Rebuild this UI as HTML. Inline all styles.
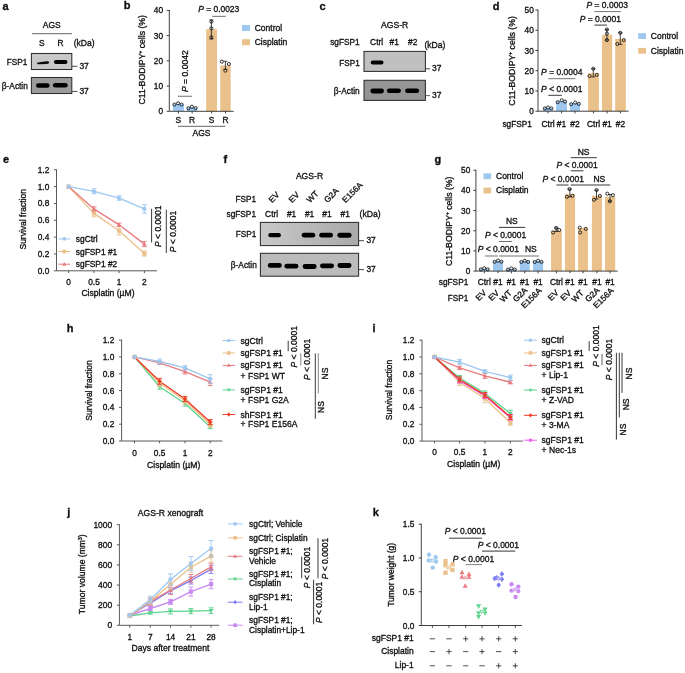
<!DOCTYPE html>
<html><head><meta charset="utf-8"><style>
html,body{margin:0;padding:0;background:#fff;}
svg{display:block;font-family:"Liberation Sans",sans-serif;}
svg text{fill:#111;stroke:#111;stroke-width:0.32px;}
</style></head><body>
<svg width="685" height="673" viewBox="0 0 685 673">
<defs><filter id="bl" x="-50%" y="-100%" width="200%" height="300%"><feGaussianBlur stdDeviation="0.6"/></filter>
<filter id="bl2" x="-20%" y="-20%" width="140%" height="140%"><feGaussianBlur stdDeviation="0.35"/></filter>
<linearGradient id="gf" x1="0" x2="1" y1="0" y2="0"><stop offset="0" stop-color="#c8c8c8"/><stop offset="1" stop-color="#a9a9a9"/></linearGradient>
<filter id="soft" x="0" y="0" width="685" height="673" filterUnits="userSpaceOnUse"><feGaussianBlur stdDeviation="0.35"/></filter></defs>
<rect width="685" height="673" fill="#fff"/>
<g filter="url(#soft)">
<text x="2.6" y="9.8" font-size="11" font-weight="bold" fill="#000">a</text>
<text x="51.7" y="27.7" font-size="8.5" text-anchor="middle">AGS</text>
<line x1="32" y1="33.7" x2="72" y2="33.7" stroke="#555" stroke-width="0.9" />
<text x="41.8" y="45.7" font-size="8.4" text-anchor="middle">S</text>
<text x="60.5" y="45.7" font-size="8.4" text-anchor="middle">R</text>
<text x="73.7" y="45.7" font-size="8.5">(kDa)</text>
<rect x="31.4" y="53.5" width="40.4" height="16" fill="#c8c8c8" stroke="#2e2e2e" stroke-width="1.05" />
<path d="M37.0 63.2 C37.0 62.4 38.5 62.1 41 61.9 L46.5 61.3 C48.6 61.2 49.2 61.9 49.2 62.6 C49.2 63.5 48.4 63.9 46.5 64.0 L40 64.3 C37.6 64.4 37.0 64.0 37.0 63.2 Z" fill="#111" filter="url(#bl)"/>
<rect x="53.9" y="59.9" width="13.6" height="4.2" rx="2.1" fill="#000" opacity="1" filter="url(#bl)"/>
<text x="27.2" y="64.9" font-size="8.2" text-anchor="end">FSP1</text>
<line x1="72" y1="66.3" x2="77.5" y2="66.3" stroke="#333" stroke-width="0.9" />
<text x="79.4" y="68.7" font-size="8.5">37</text>
<rect x="31.4" y="77.5" width="40.4" height="16" fill="#9c9c9c" stroke="#2e2e2e" stroke-width="1.05" />
<rect x="36" y="83.2" width="13.6" height="4.6" rx="2.3" fill="#000" opacity="1" filter="url(#bl)"/>
<rect x="52.9" y="83" width="14.8" height="4.6" rx="2.3" fill="#000" opacity="1" filter="url(#bl)"/>
<text x="27.8" y="88.7" font-size="8.3" text-anchor="end">β-Actin</text>
<line x1="72" y1="91.4" x2="77.5" y2="91.4" stroke="#333" stroke-width="0.9" />
<text x="79.4" y="93.6" font-size="8.5">37</text>
<text x="123.8" y="9.4" font-size="11" font-weight="bold" fill="#000">b</text>
<line x1="169.3" y1="10" x2="169.3" y2="111.3" stroke="#2e2e2e" stroke-width="0.9" />
<line x1="166.7" y1="111.3" x2="169.3" y2="111.3" stroke="#2e2e2e" stroke-width="0.9" />
<text x="163.1" y="114.35" font-size="8.3" text-anchor="end">0</text>
<line x1="166.7" y1="86.07" x2="169.3" y2="86.07" stroke="#2e2e2e" stroke-width="0.9" />
<text x="163.1" y="89.12" font-size="8.3" text-anchor="end">10</text>
<line x1="166.7" y1="60.85" x2="169.3" y2="60.85" stroke="#2e2e2e" stroke-width="0.9" />
<text x="163.1" y="63.9" font-size="8.3" text-anchor="end">20</text>
<line x1="166.7" y1="35.62" x2="169.3" y2="35.62" stroke="#2e2e2e" stroke-width="0.9" />
<text x="163.1" y="38.67" font-size="8.3" text-anchor="end">30</text>
<line x1="166.7" y1="10.4" x2="169.3" y2="10.4" stroke="#2e2e2e" stroke-width="0.9" />
<text x="163.1" y="13.45" font-size="8.3" text-anchor="end">40</text>
<text transform="translate(145.4 59.8) rotate(-90)" font-size="8.7" text-anchor="middle">C11-BODIPY<tspan font-size="4.79" dy="-3.31">+</tspan><tspan dy="3.31"> cells (%)</tspan></text>
<rect x="173" y="103.8" width="10.9" height="7.5" fill="#9ec8f0" />
<rect x="187" y="107.5" width="10.3" height="3.8" fill="#9ec8f0" />
<rect x="206.2" y="29.2" width="10.8" height="82.1" fill="#ebc18b" />
<rect x="220.3" y="65.4" width="10.4" height="45.9" fill="#ebc18b" />
<line x1="169.3" y1="111.3" x2="233.7" y2="111.3" stroke="#2e2e2e" stroke-width="0.9" />
<line x1="178.45" y1="111.3" x2="178.45" y2="113.5" stroke="#2e2e2e" stroke-width="0.9" />
<line x1="192.15" y1="111.3" x2="192.15" y2="113.5" stroke="#2e2e2e" stroke-width="0.9" />
<line x1="211.6" y1="111.3" x2="211.6" y2="113.5" stroke="#2e2e2e" stroke-width="0.9" />
<line x1="225.5" y1="111.3" x2="225.5" y2="113.5" stroke="#2e2e2e" stroke-width="0.9" />
<circle cx="174.4" cy="104.6" r="1.55" fill="none" stroke="#111" stroke-width="0.85"/>
<circle cx="178.1" cy="103.3" r="1.55" fill="none" stroke="#111" stroke-width="0.85"/>
<circle cx="181.6" cy="104.6" r="1.55" fill="none" stroke="#111" stroke-width="0.85"/>
<circle cx="188.4" cy="108.3" r="1.55" fill="none" stroke="#111" stroke-width="0.85"/>
<circle cx="191.9" cy="106.8" r="1.55" fill="none" stroke="#111" stroke-width="0.85"/>
<circle cx="195.6" cy="108.1" r="1.55" fill="none" stroke="#111" stroke-width="0.85"/>
<line x1="211.4" y1="19.9" x2="211.4" y2="39" stroke="#1a1a1a" stroke-width="0.8" />
<line x1="209.4" y1="19.9" x2="213.4" y2="19.9" stroke="#1a1a1a" stroke-width="0.8" />
<line x1="209.4" y1="39" x2="213.4" y2="39" stroke="#1a1a1a" stroke-width="0.8" />
<circle cx="211.4" cy="21.7" r="1.55" fill="none" stroke="#111" stroke-width="0.85"/>
<circle cx="211.4" cy="28.4" r="1.55" fill="none" stroke="#111" stroke-width="0.85"/>
<circle cx="211.4" cy="37.3" r="1.55" fill="none" stroke="#111" stroke-width="0.85"/>
<line x1="225.4" y1="61.3" x2="225.4" y2="69.3" stroke="#1a1a1a" stroke-width="0.8" />
<line x1="223.4" y1="61.3" x2="227.4" y2="61.3" stroke="#1a1a1a" stroke-width="0.8" />
<line x1="223.4" y1="69.3" x2="227.4" y2="69.3" stroke="#1a1a1a" stroke-width="0.8" />
<circle cx="221.8" cy="61.7" r="1.55" fill="none" stroke="#111" stroke-width="0.85"/>
<circle cx="228.9" cy="64" r="1.55" fill="none" stroke="#111" stroke-width="0.85"/>
<circle cx="225.4" cy="70.7" r="1.55" fill="none" stroke="#111" stroke-width="0.85"/>
<text x="178.4" y="122.7" font-size="8.4" text-anchor="middle">S</text>
<text x="192.1" y="122.7" font-size="8.4" text-anchor="middle">R</text>
<text x="211.6" y="122.7" font-size="8.4" text-anchor="middle">S</text>
<text x="225.5" y="122.7" font-size="8.4" text-anchor="middle">R</text>
<line x1="178" y1="126.3" x2="225.5" y2="126.3" stroke="#555" stroke-width="0.9" />
<text x="201.5" y="136.2" font-size="8.5" text-anchor="middle">AGS</text>
<text transform="translate(187.8 71.1) rotate(-90)" font-size="8.6" text-anchor="middle"><tspan font-style="italic">P</tspan> = 0.0042</text>
<line x1="178" y1="96.25" x2="191.9" y2="96.25" stroke="#666" stroke-width="0.95" />
<text x="198.2" y="11.5" font-size="8.45"><tspan font-style="italic">P</tspan> = 0.0023</text>
<line x1="212.2" y1="16.35" x2="225.6" y2="16.35" stroke="#666" stroke-width="0.95" />
<rect x="242" y="25" width="8" height="6" fill="#9ec8f0" />
<text x="254.7" y="31" font-size="8.5">Control</text>
<rect x="242" y="39.2" width="8" height="6" fill="#ebc18b" />
<text x="254.7" y="45.2" font-size="8.5">Cisplatin</text>
<text x="319.6" y="9.8" font-size="11" font-weight="bold" fill="#000">c</text>
<text x="394.6" y="28.1" font-size="8.6" text-anchor="middle">AGS-R</text>
<text x="359.7" y="45" font-size="8.3" text-anchor="end">sgFSP1</text>
<text x="376.6" y="45.1" font-size="8.4" text-anchor="middle">Ctrl</text>
<text x="394.2" y="45.1" font-size="8.4" text-anchor="middle">#1</text>
<text x="412.7" y="45.1" font-size="8.4" text-anchor="middle">#2</text>
<text x="424.4" y="47.8" font-size="8.6">(kDa)</text>
<rect x="364" y="51.4" width="61.4" height="20" fill="#c0c0c0" stroke="#2e2e2e" stroke-width="1.05" />
<rect x="370.7" y="60.6" width="12.8" height="4" rx="2" fill="#000" opacity="1" filter="url(#bl)"/>
<text x="359.7" y="66.1" font-size="8.2" text-anchor="end">FSP1</text>
<line x1="425.6" y1="68.8" x2="430" y2="68.8" stroke="#333" stroke-width="0.9" />
<text x="432.1" y="71.1" font-size="8.5">37</text>
<rect x="364" y="80.3" width="61.4" height="20.1" fill="#959595" stroke="#2e2e2e" stroke-width="1.05" />
<rect x="370.4" y="88.6" width="13.6" height="4.8" rx="2.4" fill="#000" opacity="1" filter="url(#bl)"/>
<rect x="386.9" y="88.6" width="14" height="4.4" rx="2.2" fill="#000" opacity="1" filter="url(#bl)"/>
<rect x="405.1" y="88.6" width="14" height="4.4" rx="2.2" fill="#000" opacity="1" filter="url(#bl)"/>
<text x="359.7" y="94.3" font-size="8.3" text-anchor="end">β-Actin</text>
<line x1="425.6" y1="95.6" x2="430" y2="95.6" stroke="#555" stroke-width="0.9" />
<text x="432.1" y="98.2" font-size="8.5">37</text>
<text x="492.8" y="9.7" font-size="11" font-weight="bold" fill="#000">d</text>
<line x1="538" y1="9.6" x2="538" y2="111.2" stroke="#2e2e2e" stroke-width="0.9" />
<line x1="535.4" y1="111.2" x2="538" y2="111.2" stroke="#2e2e2e" stroke-width="0.9" />
<text x="533.8" y="114.25" font-size="8.3" text-anchor="end">0</text>
<line x1="535.4" y1="90.96" x2="538" y2="90.96" stroke="#2e2e2e" stroke-width="0.9" />
<text x="533.8" y="94.01" font-size="8.3" text-anchor="end">10</text>
<line x1="535.4" y1="70.72" x2="538" y2="70.72" stroke="#2e2e2e" stroke-width="0.9" />
<text x="533.8" y="73.77" font-size="8.3" text-anchor="end">20</text>
<line x1="535.4" y1="50.48" x2="538" y2="50.48" stroke="#2e2e2e" stroke-width="0.9" />
<text x="533.8" y="53.53" font-size="8.3" text-anchor="end">30</text>
<line x1="535.4" y1="30.24" x2="538" y2="30.24" stroke="#2e2e2e" stroke-width="0.9" />
<text x="533.8" y="33.29" font-size="8.3" text-anchor="end">40</text>
<line x1="535.4" y1="10" x2="538" y2="10" stroke="#2e2e2e" stroke-width="0.9" />
<text x="533.8" y="13.05" font-size="8.3" text-anchor="end">50</text>
<text transform="translate(515.3 60.9) rotate(-90)" font-size="8.7" text-anchor="middle">C11-BODIPY<tspan font-size="4.79" dy="-3.31">+</tspan><tspan dy="3.31"> cells (%)</tspan></text>
<rect x="543.3" y="107.8" width="9.5" height="3.4" fill="#9ec8f0" />
<rect x="556.1" y="101.2" width="10.9" height="10" fill="#9ec8f0" />
<rect x="569.9" y="103.2" width="10.1" height="8" fill="#9ec8f0" />
<rect x="588.1" y="73.2" width="10.8" height="38" fill="#ebc18b" />
<rect x="602" y="34.8" width="10.2" height="76.4" fill="#ebc18b" />
<rect x="615.2" y="38.9" width="10.6" height="72.3" fill="#ebc18b" />
<line x1="538" y1="111.2" x2="628.6" y2="111.2" stroke="#2e2e2e" stroke-width="0.9" />
<line x1="548.05" y1="111.2" x2="548.05" y2="113.4" stroke="#2e2e2e" stroke-width="0.9" />
<line x1="561.55" y1="111.2" x2="561.55" y2="113.4" stroke="#2e2e2e" stroke-width="0.9" />
<line x1="574.95" y1="111.2" x2="574.95" y2="113.4" stroke="#2e2e2e" stroke-width="0.9" />
<line x1="593.5" y1="111.2" x2="593.5" y2="113.4" stroke="#2e2e2e" stroke-width="0.9" />
<line x1="607.1" y1="111.2" x2="607.1" y2="113.4" stroke="#2e2e2e" stroke-width="0.9" />
<line x1="620.5" y1="111.2" x2="620.5" y2="113.4" stroke="#2e2e2e" stroke-width="0.9" />
<circle cx="544.8" cy="108.5" r="1.55" fill="none" stroke="#111" stroke-width="0.85"/>
<circle cx="548.1" cy="107.6" r="1.55" fill="none" stroke="#111" stroke-width="0.85"/>
<circle cx="551.4" cy="108.4" r="1.55" fill="none" stroke="#111" stroke-width="0.85"/>
<circle cx="557.7" cy="102.2" r="1.55" fill="none" stroke="#111" stroke-width="0.85"/>
<circle cx="561.7" cy="100.3" r="1.55" fill="none" stroke="#111" stroke-width="0.85"/>
<circle cx="565" cy="101.6" r="1.55" fill="none" stroke="#111" stroke-width="0.85"/>
<circle cx="571.2" cy="104.2" r="1.55" fill="none" stroke="#111" stroke-width="0.85"/>
<circle cx="575.2" cy="102.6" r="1.55" fill="none" stroke="#111" stroke-width="0.85"/>
<circle cx="578.8" cy="103.9" r="1.55" fill="none" stroke="#111" stroke-width="0.85"/>
<line x1="593.3" y1="68.7" x2="593.3" y2="76.9" stroke="#1a1a1a" stroke-width="0.8" />
<line x1="591.3" y1="68.7" x2="595.3" y2="68.7" stroke="#1a1a1a" stroke-width="0.8" />
<line x1="591.3" y1="76.9" x2="595.3" y2="76.9" stroke="#1a1a1a" stroke-width="0.8" />
<circle cx="593.3" cy="68.7" r="1.55" fill="none" stroke="#111" stroke-width="0.85"/>
<circle cx="589.5" cy="76.1" r="1.55" fill="none" stroke="#111" stroke-width="0.85"/>
<circle cx="596.8" cy="74.8" r="1.55" fill="none" stroke="#111" stroke-width="0.85"/>
<line x1="606.9" y1="29.5" x2="606.9" y2="40.1" stroke="#1a1a1a" stroke-width="0.8" />
<line x1="604.9" y1="29.5" x2="608.9" y2="29.5" stroke="#1a1a1a" stroke-width="0.8" />
<line x1="604.9" y1="40.1" x2="608.9" y2="40.1" stroke="#1a1a1a" stroke-width="0.8" />
<circle cx="606.9" cy="29.5" r="1.55" fill="none" stroke="#111" stroke-width="0.85"/>
<circle cx="606.9" cy="33.6" r="1.55" fill="none" stroke="#111" stroke-width="0.85"/>
<circle cx="606.9" cy="40.1" r="1.55" fill="none" stroke="#111" stroke-width="0.85"/>
<line x1="620.3" y1="32.8" x2="620.3" y2="44.4" stroke="#1a1a1a" stroke-width="0.8" />
<line x1="618.3" y1="32.8" x2="622.3" y2="32.8" stroke="#1a1a1a" stroke-width="0.8" />
<line x1="618.3" y1="44.4" x2="622.3" y2="44.4" stroke="#1a1a1a" stroke-width="0.8" />
<circle cx="620.3" cy="32.8" r="1.55" fill="none" stroke="#111" stroke-width="0.85"/>
<circle cx="617.3" cy="44" r="1.55" fill="none" stroke="#111" stroke-width="0.85"/>
<circle cx="623.8" cy="40.1" r="1.55" fill="none" stroke="#111" stroke-width="0.85"/>
<text x="531.9" y="126.8" font-size="8.3" text-anchor="end">sgFSP1</text>
<text x="548.05" y="126.8" font-size="8.45" text-anchor="middle">Ctrl</text>
<text x="561.55" y="126.8" font-size="8.45" text-anchor="middle">#1</text>
<text x="574.95" y="126.8" font-size="8.45" text-anchor="middle">#2</text>
<text x="593.5" y="126.8" font-size="8.45" text-anchor="middle">Ctrl</text>
<text x="607.1" y="126.8" font-size="8.45" text-anchor="middle">#1</text>
<text x="620.5" y="126.8" font-size="8.45" text-anchor="middle">#2</text>
<text x="541.1" y="75.4" font-size="8.5"><tspan font-style="italic">P</tspan> = 0.0004</text>
<line x1="548.3" y1="78.7" x2="575.4" y2="78.7" stroke="#6e6e6e" stroke-width="0.95" />
<text x="541.1" y="91.8" font-size="8.5"><tspan font-style="italic">P</tspan> &lt; 0.0001</text>
<line x1="548.3" y1="95.3" x2="561.8" y2="95.3" stroke="#222" stroke-width="0.9" />
<text x="586.5" y="7.7" font-size="8.5"><tspan font-style="italic">P</tspan> = 0.0003</text>
<line x1="594.4" y1="11.6" x2="620.9" y2="11.6" stroke="#6e6e6e" stroke-width="0.95" />
<text x="579.7" y="22.2" font-size="8.5"><tspan font-style="italic">P</tspan> = 0.0001</text>
<line x1="594.4" y1="25.1" x2="607" y2="25.1" stroke="#222" stroke-width="0.9" />
<rect x="638.2" y="33.2" width="7.8" height="5.8" fill="#9ec8f0" />
<text x="650.8" y="39.4" font-size="8.5">Control</text>
<rect x="638.2" y="47.9" width="7.8" height="5.8" fill="#ebc18b" />
<text x="650.8" y="54" font-size="8.5">Cisplatin</text>
<text x="3" y="162.7" font-size="11" font-weight="bold" fill="#000">e</text>
<line x1="56.5" y1="169.36" x2="56.5" y2="270.8" stroke="#474747" stroke-width="0.9" />
<line x1="53.9" y1="270.8" x2="56.5" y2="270.8" stroke="#474747" stroke-width="0.9" />
<text x="49.3" y="273.8" font-size="8.3" text-anchor="end">0.0</text>
<line x1="53.9" y1="253.96" x2="56.5" y2="253.96" stroke="#474747" stroke-width="0.9" />
<text x="49.3" y="256.96" font-size="8.3" text-anchor="end">0.2</text>
<line x1="53.9" y1="237.12" x2="56.5" y2="237.12" stroke="#474747" stroke-width="0.9" />
<text x="49.3" y="240.12" font-size="8.3" text-anchor="end">0.4</text>
<line x1="53.9" y1="220.28" x2="56.5" y2="220.28" stroke="#474747" stroke-width="0.9" />
<text x="49.3" y="223.28" font-size="8.3" text-anchor="end">0.6</text>
<line x1="53.9" y1="203.44" x2="56.5" y2="203.44" stroke="#474747" stroke-width="0.9" />
<text x="49.3" y="206.44" font-size="8.3" text-anchor="end">0.8</text>
<line x1="53.9" y1="186.6" x2="56.5" y2="186.6" stroke="#474747" stroke-width="0.9" />
<text x="49.3" y="189.6" font-size="8.3" text-anchor="end">1.0</text>
<line x1="53.9" y1="169.76" x2="56.5" y2="169.76" stroke="#474747" stroke-width="0.9" />
<text x="49.3" y="172.76" font-size="8.3" text-anchor="end">1.2</text>
<line x1="56.5" y1="270.8" x2="157" y2="270.8" stroke="#474747" stroke-width="0.9" />
<line x1="68.6" y1="270.8" x2="68.6" y2="273.1" stroke="#474747" stroke-width="0.9" />
<line x1="94" y1="270.8" x2="94" y2="273.1" stroke="#474747" stroke-width="0.9" />
<line x1="119.1" y1="270.8" x2="119.1" y2="273.1" stroke="#474747" stroke-width="0.9" />
<line x1="144.4" y1="270.8" x2="144.4" y2="273.1" stroke="#474747" stroke-width="0.9" />
<text x="68.6" y="284.5" font-size="8.3" text-anchor="middle">0</text>
<text x="94" y="284.5" font-size="8.3" text-anchor="middle">0.5</text>
<text x="119.1" y="284.5" font-size="8.3" text-anchor="middle">1</text>
<text x="144.4" y="284.5" font-size="8.3" text-anchor="middle">2</text>
<text x="108" y="296.2" font-size="8.6" text-anchor="middle">Cisplatin (µM)</text>
<text transform="translate(26.3 219.3) rotate(-90)" font-size="8.5" text-anchor="middle">Survival fraction</text>
<polyline points="68.6,186.6 94,213.38 119.1,230.72 144.4,253.54" fill="none" stroke="#ebc18b" stroke-width="1.35" stroke-linejoin="round"/>
<polyline points="68.6,186.6 94,208.91 119.1,224.83 144.4,244.11" fill="none" stroke="#e87c80" stroke-width="1.35" stroke-linejoin="round"/>
<polyline points="68.6,186.6 94,191.32 119.1,198.05 144.4,208.91" fill="none" stroke="#9ec8f0" stroke-width="1.35" stroke-linejoin="round"/>
<rect x="66.5" y="184.5" width="4.2" height="4.2" fill="#ebc18b" />
<line x1="94" y1="210.01" x2="94" y2="216.74" stroke="#ebc18b" stroke-width="0.9" />
<line x1="91.5" y1="210.01" x2="96.5" y2="210.01" stroke="#ebc18b" stroke-width="0.9" />
<line x1="91.5" y1="216.74" x2="96.5" y2="216.74" stroke="#ebc18b" stroke-width="0.9" />
<rect x="91.9" y="211.28" width="4.2" height="4.2" fill="#ebc18b" />
<line x1="119.1" y1="226.51" x2="119.1" y2="234.93" stroke="#ebc18b" stroke-width="0.9" />
<line x1="116.6" y1="226.51" x2="121.6" y2="226.51" stroke="#ebc18b" stroke-width="0.9" />
<line x1="116.6" y1="234.93" x2="121.6" y2="234.93" stroke="#ebc18b" stroke-width="0.9" />
<rect x="117" y="228.62" width="4.2" height="4.2" fill="#ebc18b" />
<line x1="144.4" y1="251.01" x2="144.4" y2="256.06" stroke="#ebc18b" stroke-width="0.9" />
<line x1="141.9" y1="251.01" x2="146.9" y2="251.01" stroke="#ebc18b" stroke-width="0.9" />
<line x1="141.9" y1="256.06" x2="146.9" y2="256.06" stroke="#ebc18b" stroke-width="0.9" />
<rect x="142.3" y="251.44" width="4.2" height="4.2" fill="#ebc18b" />
<polygon points="68.6,184.08 70.91,188.28 66.29,188.28" fill="#e87c80"/>
<line x1="94" y1="206.81" x2="94" y2="211.02" stroke="#e87c80" stroke-width="0.9" />
<line x1="91.5" y1="206.81" x2="96.5" y2="206.81" stroke="#e87c80" stroke-width="0.9" />
<line x1="91.5" y1="211.02" x2="96.5" y2="211.02" stroke="#e87c80" stroke-width="0.9" />
<polygon points="94,206.39 96.31,210.59 91.69,210.59" fill="#e87c80"/>
<line x1="119.1" y1="223.14" x2="119.1" y2="226.51" stroke="#e87c80" stroke-width="0.9" />
<line x1="116.6" y1="223.14" x2="121.6" y2="223.14" stroke="#e87c80" stroke-width="0.9" />
<line x1="116.6" y1="226.51" x2="121.6" y2="226.51" stroke="#e87c80" stroke-width="0.9" />
<polygon points="119.1,222.31 121.41,226.51 116.79,226.51" fill="#e87c80"/>
<line x1="144.4" y1="241.58" x2="144.4" y2="246.63" stroke="#e87c80" stroke-width="0.9" />
<line x1="141.9" y1="241.58" x2="146.9" y2="241.58" stroke="#e87c80" stroke-width="0.9" />
<line x1="141.9" y1="246.63" x2="146.9" y2="246.63" stroke="#e87c80" stroke-width="0.9" />
<polygon points="144.4,241.59 146.71,245.79 142.09,245.79" fill="#e87c80"/>
<circle cx="68.6" cy="186.6" r="2.1" fill="#9ec8f0"/>
<line x1="94" y1="188.79" x2="94" y2="193.84" stroke="#9ec8f0" stroke-width="0.9" />
<line x1="91.5" y1="188.79" x2="96.5" y2="188.79" stroke="#9ec8f0" stroke-width="0.9" />
<line x1="91.5" y1="193.84" x2="96.5" y2="193.84" stroke="#9ec8f0" stroke-width="0.9" />
<circle cx="94" cy="191.32" r="2.1" fill="#9ec8f0"/>
<line x1="119.1" y1="195.78" x2="119.1" y2="200.32" stroke="#9ec8f0" stroke-width="0.9" />
<line x1="116.6" y1="195.78" x2="121.6" y2="195.78" stroke="#9ec8f0" stroke-width="0.9" />
<line x1="116.6" y1="200.32" x2="121.6" y2="200.32" stroke="#9ec8f0" stroke-width="0.9" />
<circle cx="119.1" cy="198.05" r="2.1" fill="#9ec8f0"/>
<line x1="144.4" y1="204.7" x2="144.4" y2="213.12" stroke="#9ec8f0" stroke-width="0.9" />
<line x1="141.9" y1="204.7" x2="146.9" y2="204.7" stroke="#9ec8f0" stroke-width="0.9" />
<line x1="141.9" y1="213.12" x2="146.9" y2="213.12" stroke="#9ec8f0" stroke-width="0.9" />
<circle cx="144.4" cy="208.91" r="2.1" fill="#9ec8f0"/>
<line x1="58.3" y1="238.9" x2="70.3" y2="238.9" stroke="#9ec8f0" stroke-width="1" />
<circle cx="64.3" cy="238.9" r="1.8" fill="#9ec8f0"/>
<text x="75.8" y="241.9" font-size="8.4">sgCtrl</text>
<line x1="58.3" y1="251.5" x2="70.3" y2="251.5" stroke="#ebc18b" stroke-width="1" />
<rect x="62.5" y="249.7" width="3.6" height="3.6" fill="#ebc18b" />
<text x="75.8" y="254.5" font-size="8.4">sgFSP1 #1</text>
<line x1="58.3" y1="264.2" x2="70.3" y2="264.2" stroke="#e87c80" stroke-width="1" />
<polygon points="64.3,262.04 66.28,265.64 62.32,265.64" fill="#e87c80"/>
<text x="75.8" y="267.2" font-size="8.4">sgFSP1 #2</text>
<line x1="151.6" y1="208.8" x2="151.6" y2="242.5" stroke="#222" stroke-width="0.9" />
<text transform="translate(160.9 226.3) rotate(-90)" font-size="8.5" text-anchor="middle"><tspan font-style="italic">P</tspan> &lt; 0.0001</text>
<line x1="166.3" y1="209.6" x2="166.3" y2="253" stroke="#222" stroke-width="0.9" />
<text transform="translate(175.8 231.5) rotate(-90)" font-size="8.5" text-anchor="middle"><tspan font-style="italic">P</tspan> &lt; 0.0001</text>
<text x="223.6" y="163.2" font-size="11" font-weight="bold" fill="#000">f</text>
<text x="309.5" y="178.9" font-size="8.6" text-anchor="middle">AGS-R</text>
<text x="256" y="202.2" font-size="8.2" text-anchor="end">FSP1</text>
<text transform="translate(272 203.2) rotate(-45)" font-size="8.3">EV</text>
<text transform="translate(292 203.2) rotate(-45)" font-size="8.3">EV</text>
<text transform="translate(310 203.2) rotate(-45)" font-size="8.3">WT</text>
<text transform="translate(327.4 203.2) rotate(-45)" font-size="8.3">G2A</text>
<text transform="translate(345.6 203.2) rotate(-45)" font-size="8.3">E156A</text>
<text x="256" y="216.9" font-size="8.3" text-anchor="end">sgFSP1</text>
<text x="271.6" y="216.9" font-size="8.4" text-anchor="middle">Ctrl</text>
<text x="291.6" y="216.9" font-size="8.4" text-anchor="middle">#1</text>
<text x="309.6" y="216.9" font-size="8.4" text-anchor="middle">#1</text>
<text x="327" y="216.9" font-size="8.4" text-anchor="middle">#1</text>
<text x="345.2" y="216.9" font-size="8.4" text-anchor="middle">#1</text>
<text x="359.6" y="217.4" font-size="8.6">(kDa)</text>
<rect x="260.4" y="222.4" width="98.2" height="23.2" fill="url(#gf)" stroke="#2e2e2e" stroke-width="1.05" />
<rect x="268.3" y="233.1" width="12.6" height="4.2" rx="2.1" fill="#000" opacity="1" filter="url(#bl)"/>
<rect x="301.7" y="232.8" width="13.6" height="4.8" rx="2.4" fill="#000" opacity="1" filter="url(#bl)"/>
<rect x="319.2" y="232.8" width="13.8" height="4.8" rx="2.4" fill="#000" opacity="1" filter="url(#bl)"/>
<rect x="337.4" y="232.75" width="14.2" height="4.9" rx="2.45" fill="#000" opacity="1" filter="url(#bl)"/>
<text x="256.3" y="236.6" font-size="8.2" text-anchor="end">FSP1</text>
<line x1="358.7" y1="240.7" x2="364" y2="240.7" stroke="#333" stroke-width="0.9" />
<text x="366.4" y="243.3" font-size="8.4">37</text>
<rect x="260.4" y="253.3" width="98.2" height="22.9" fill="#bbbbbb" stroke="#2e2e2e" stroke-width="1.05" />
<rect x="267.8" y="263" width="14" height="4.8" rx="2.4" fill="#000" opacity="1" filter="url(#bl)"/>
<rect x="284.4" y="263.8" width="14" height="4.8" rx="2.4" fill="#000" opacity="1" filter="url(#bl)"/>
<rect x="302.6" y="264.1" width="14" height="4.8" rx="2.4" fill="#000" opacity="1" filter="url(#bl)"/>
<rect x="320" y="263.4" width="14" height="4.8" rx="2.4" fill="#000" opacity="1" filter="url(#bl)"/>
<rect x="337.5" y="263.1" width="14" height="4.8" rx="2.4" fill="#000" opacity="1" filter="url(#bl)"/>
<text x="256.8" y="268.3" font-size="8.3" text-anchor="end">β-Actin</text>
<line x1="358.7" y1="269.6" x2="364" y2="269.6" stroke="#333" stroke-width="0.9" />
<text x="366.4" y="272.2" font-size="8.4">37</text>
<text x="434.6" y="162.7" font-size="11" font-weight="bold" fill="#000">g</text>
<line x1="475.9" y1="169.8" x2="475.9" y2="271.1" stroke="#2e2e2e" stroke-width="0.9" />
<line x1="473.3" y1="271.1" x2="475.9" y2="271.1" stroke="#2e2e2e" stroke-width="0.9" />
<text x="470.3" y="274.15" font-size="8.3" text-anchor="end">0</text>
<line x1="473.3" y1="250.92" x2="475.9" y2="250.92" stroke="#2e2e2e" stroke-width="0.9" />
<text x="470.3" y="253.97" font-size="8.3" text-anchor="end">10</text>
<line x1="473.3" y1="230.74" x2="475.9" y2="230.74" stroke="#2e2e2e" stroke-width="0.9" />
<text x="470.3" y="233.79" font-size="8.3" text-anchor="end">20</text>
<line x1="473.3" y1="210.56" x2="475.9" y2="210.56" stroke="#2e2e2e" stroke-width="0.9" />
<text x="470.3" y="213.61" font-size="8.3" text-anchor="end">30</text>
<line x1="473.3" y1="190.38" x2="475.9" y2="190.38" stroke="#2e2e2e" stroke-width="0.9" />
<text x="470.3" y="193.43" font-size="8.3" text-anchor="end">40</text>
<line x1="473.3" y1="170.2" x2="475.9" y2="170.2" stroke="#2e2e2e" stroke-width="0.9" />
<text x="470.3" y="173.25" font-size="8.3" text-anchor="end">50</text>
<text transform="translate(452.0 221.3) rotate(-90)" font-size="8.7" text-anchor="middle">C11-BODIPY<tspan font-size="4.8" dy="-3.3">+</tspan><tspan dy="3.3"> cells (%)</tspan></text>
<rect x="479.2" y="268.6" width="10.1" height="2.5" fill="#9ec8f0" />
<rect x="493" y="261" width="10" height="10.1" fill="#9ec8f0" />
<rect x="506.4" y="268.8" width="9.9" height="2.3" fill="#9ec8f0" />
<rect x="519.8" y="261.2" width="9.9" height="9.9" fill="#9ec8f0" />
<rect x="533.1" y="261.2" width="10" height="9.9" fill="#9ec8f0" />
<rect x="551.1" y="230.5" width="10.7" height="40.6" fill="#ebc18b" />
<rect x="564.9" y="194.2" width="10.2" height="76.9" fill="#ebc18b" />
<rect x="578.1" y="227.9" width="9.8" height="43.2" fill="#ebc18b" />
<rect x="591.9" y="195.7" width="10.1" height="75.4" fill="#ebc18b" />
<rect x="605" y="196.8" width="10.2" height="74.3" fill="#ebc18b" />
<line x1="475.9" y1="271.1" x2="617.8" y2="271.1" stroke="#2e2e2e" stroke-width="0.9" />
<line x1="484.25" y1="271.1" x2="484.25" y2="273.3" stroke="#2e2e2e" stroke-width="0.9" />
<circle cx="480.85" cy="269.4" r="1.55" fill="none" stroke="#111" stroke-width="0.85"/>
<circle cx="484.25" cy="268.2" r="1.55" fill="none" stroke="#111" stroke-width="0.85"/>
<circle cx="487.65" cy="269.3" r="1.55" fill="none" stroke="#111" stroke-width="0.85"/>
<line x1="498" y1="271.1" x2="498" y2="273.3" stroke="#2e2e2e" stroke-width="0.9" />
<circle cx="494.6" cy="261.8" r="1.55" fill="none" stroke="#111" stroke-width="0.85"/>
<circle cx="498" cy="260.6" r="1.55" fill="none" stroke="#111" stroke-width="0.85"/>
<circle cx="501.4" cy="261.7" r="1.55" fill="none" stroke="#111" stroke-width="0.85"/>
<line x1="511.35" y1="271.1" x2="511.35" y2="273.3" stroke="#2e2e2e" stroke-width="0.9" />
<circle cx="507.95" cy="269.6" r="1.55" fill="none" stroke="#111" stroke-width="0.85"/>
<circle cx="511.35" cy="268.4" r="1.55" fill="none" stroke="#111" stroke-width="0.85"/>
<circle cx="514.75" cy="269.5" r="1.55" fill="none" stroke="#111" stroke-width="0.85"/>
<line x1="524.75" y1="271.1" x2="524.75" y2="273.3" stroke="#2e2e2e" stroke-width="0.9" />
<circle cx="521.35" cy="262" r="1.55" fill="none" stroke="#111" stroke-width="0.85"/>
<circle cx="524.75" cy="260.8" r="1.55" fill="none" stroke="#111" stroke-width="0.85"/>
<circle cx="528.15" cy="261.9" r="1.55" fill="none" stroke="#111" stroke-width="0.85"/>
<line x1="538.1" y1="271.1" x2="538.1" y2="273.3" stroke="#2e2e2e" stroke-width="0.9" />
<circle cx="534.7" cy="262" r="1.55" fill="none" stroke="#111" stroke-width="0.85"/>
<circle cx="538.1" cy="260.8" r="1.55" fill="none" stroke="#111" stroke-width="0.85"/>
<circle cx="541.5" cy="261.9" r="1.55" fill="none" stroke="#111" stroke-width="0.85"/>
<line x1="556.45" y1="271.1" x2="556.45" y2="273.3" stroke="#2e2e2e" stroke-width="0.9" />
<line x1="570" y1="271.1" x2="570" y2="273.3" stroke="#2e2e2e" stroke-width="0.9" />
<line x1="583" y1="271.1" x2="583" y2="273.3" stroke="#2e2e2e" stroke-width="0.9" />
<line x1="596.95" y1="271.1" x2="596.95" y2="273.3" stroke="#2e2e2e" stroke-width="0.9" />
<line x1="610.1" y1="271.1" x2="610.1" y2="273.3" stroke="#2e2e2e" stroke-width="0.9" />
<line x1="556.2" y1="227.9" x2="556.2" y2="231.5" stroke="#1a1a1a" stroke-width="0.8" />
<line x1="554.2" y1="227.9" x2="558.2" y2="227.9" stroke="#1a1a1a" stroke-width="0.8" />
<line x1="554.2" y1="231.5" x2="558.2" y2="231.5" stroke="#1a1a1a" stroke-width="0.8" />
<circle cx="556.2" cy="227.9" r="1.55" fill="none" stroke="#111" stroke-width="0.85"/>
<circle cx="553.1" cy="232.5" r="1.55" fill="none" stroke="#111" stroke-width="0.85"/>
<circle cx="559.2" cy="230" r="1.55" fill="none" stroke="#111" stroke-width="0.85"/>
<line x1="569.9" y1="189.1" x2="569.9" y2="196.8" stroke="#1a1a1a" stroke-width="0.8" />
<line x1="567.9" y1="189.1" x2="571.9" y2="189.1" stroke="#1a1a1a" stroke-width="0.8" />
<line x1="567.9" y1="196.8" x2="571.9" y2="196.8" stroke="#1a1a1a" stroke-width="0.8" />
<circle cx="569.5" cy="189.1" r="1.55" fill="none" stroke="#111" stroke-width="0.85"/>
<circle cx="566.9" cy="196.8" r="1.55" fill="none" stroke="#111" stroke-width="0.85"/>
<circle cx="572.5" cy="195.7" r="1.55" fill="none" stroke="#111" stroke-width="0.85"/>
<circle cx="579.7" cy="227.7" r="1.55" fill="none" stroke="#111" stroke-width="0.85"/>
<circle cx="585.8" cy="228.9" r="1.55" fill="none" stroke="#111" stroke-width="0.85"/>
<circle cx="580.2" cy="232.5" r="1.55" fill="none" stroke="#111" stroke-width="0.85"/>
<line x1="596.5" y1="190.1" x2="596.5" y2="199" stroke="#1a1a1a" stroke-width="0.8" />
<line x1="594.5" y1="190.1" x2="598.5" y2="190.1" stroke="#1a1a1a" stroke-width="0.8" />
<line x1="594.5" y1="199" x2="598.5" y2="199" stroke="#1a1a1a" stroke-width="0.8" />
<circle cx="596.5" cy="190.1" r="1.55" fill="none" stroke="#111" stroke-width="0.85"/>
<circle cx="599.9" cy="196" r="1.55" fill="none" stroke="#111" stroke-width="0.85"/>
<circle cx="594" cy="199.8" r="1.55" fill="none" stroke="#111" stroke-width="0.85"/>
<line x1="610" y1="194.5" x2="610" y2="201.3" stroke="#1a1a1a" stroke-width="0.8" />
<line x1="608" y1="194.5" x2="612" y2="194.5" stroke="#1a1a1a" stroke-width="0.8" />
<line x1="608" y1="201.3" x2="612" y2="201.3" stroke="#1a1a1a" stroke-width="0.8" />
<circle cx="607.3" cy="193.7" r="1.55" fill="none" stroke="#111" stroke-width="0.85"/>
<circle cx="612.9" cy="195.2" r="1.55" fill="none" stroke="#111" stroke-width="0.85"/>
<circle cx="609.8" cy="201.3" r="1.55" fill="none" stroke="#111" stroke-width="0.85"/>
<rect x="483.5" y="173.3" width="7.6" height="5.9" fill="#9ec8f0" />
<text x="496" y="179" font-size="8.5">Control</text>
<rect x="483.5" y="187.6" width="7.6" height="5.9" fill="#ebc18b" />
<text x="496" y="193.3" font-size="8.5">Cisplatin</text>
<text x="468.3" y="284.8" font-size="8.3" text-anchor="end">sgFSP1</text>
<text x="468.3" y="301.2" font-size="8.2" text-anchor="end">FSP1</text>
<text x="484.25" y="284.8" font-size="8.4" text-anchor="middle">Ctrl</text>
<text transform="translate(486.95 293.4) rotate(-45)" font-size="8.3" text-anchor="end">EV</text>
<text x="498" y="284.8" font-size="8.4" text-anchor="middle">#1</text>
<text transform="translate(499.6 293.5) rotate(-45)" font-size="8.3" text-anchor="end">EV</text>
<text x="511.35" y="284.8" font-size="8.4" text-anchor="middle">#1</text>
<text transform="translate(512.45 293.5) rotate(-45)" font-size="8.3" text-anchor="end">WT</text>
<text x="524.75" y="284.8" font-size="8.4" text-anchor="middle">#1</text>
<text transform="translate(527.95 290.8) rotate(-45)" font-size="8.3" text-anchor="end">G2A</text>
<text x="538.1" y="284.8" font-size="8.4" text-anchor="middle">#1</text>
<text transform="translate(542.2 291.2) rotate(-45)" font-size="8.3" text-anchor="end">E156A</text>
<text x="556.45" y="284.8" font-size="8.4" text-anchor="middle">Ctrl</text>
<text transform="translate(559.15 293.4) rotate(-45)" font-size="8.3" text-anchor="end">EV</text>
<text x="570" y="284.8" font-size="8.4" text-anchor="middle">#1</text>
<text transform="translate(571.6 293.5) rotate(-45)" font-size="8.3" text-anchor="end">EV</text>
<text x="583" y="284.8" font-size="8.4" text-anchor="middle">#1</text>
<text transform="translate(584.1 293.5) rotate(-45)" font-size="8.3" text-anchor="end">WT</text>
<text x="596.95" y="284.8" font-size="8.4" text-anchor="middle">#1</text>
<text transform="translate(600.15 290.8) rotate(-45)" font-size="8.3" text-anchor="end">G2A</text>
<text x="610.1" y="284.8" font-size="8.4" text-anchor="middle">#1</text>
<text transform="translate(614.2 291.2) rotate(-45)" font-size="8.3" text-anchor="end">E156A</text>
<text x="511.9" y="224.3" font-size="8.5" text-anchor="middle">NS</text>
<line x1="499" y1="227.4" x2="525.2" y2="227.4" stroke="#222" stroke-width="0.9" />
<text x="484.9" y="238.4" font-size="8.5"><tspan font-style="italic">P</tspan> &lt; 0.0001</text>
<line x1="499" y1="241.5" x2="511.9" y2="241.5" stroke="#666" stroke-width="0.95" />
<text x="477.7" y="251.8" font-size="8.5"><tspan font-style="italic">P</tspan> &lt; 0.0001</text>
<text x="530.8" y="251.8" font-size="8.5" text-anchor="middle">NS</text>
<line x1="484.9" y1="256" x2="497.9" y2="256" stroke="#6e6e6e" stroke-width="0.95" />
<line x1="499" y1="256" x2="539" y2="256" stroke="#6e6e6e" stroke-width="0.95" />
<text x="583.6" y="154.6" font-size="8.5" text-anchor="middle">NS</text>
<line x1="570.8" y1="157.7" x2="596.8" y2="157.7" stroke="#222" stroke-width="0.9" />
<text x="556.4" y="168.3" font-size="8.5"><tspan font-style="italic">P</tspan> &lt; 0.0001</text>
<line x1="570.8" y1="170.8" x2="583.4" y2="170.8" stroke="#222" stroke-width="0.9" />
<text x="542.5" y="181.7" font-size="8.5"><tspan font-style="italic">P</tspan> &lt; 0.0001</text>
<text x="599.4" y="181.7" font-size="8.5" text-anchor="middle">NS</text>
<line x1="556.4" y1="185" x2="568.5" y2="185" stroke="#222" stroke-width="0.9" />
<line x1="570.8" y1="185" x2="610.2" y2="185" stroke="#222" stroke-width="0.9" />
<text x="66.8" y="332.1" font-size="11" font-weight="bold" fill="#000">h</text>
<line x1="121.6" y1="339.68" x2="121.6" y2="441" stroke="#474747" stroke-width="0.9" />
<line x1="119" y1="441" x2="121.6" y2="441" stroke="#474747" stroke-width="0.9" />
<text x="114.3" y="444" font-size="8.3" text-anchor="end">0.0</text>
<line x1="119" y1="424.18" x2="121.6" y2="424.18" stroke="#474747" stroke-width="0.9" />
<text x="114.3" y="427.18" font-size="8.3" text-anchor="end">0.2</text>
<line x1="119" y1="407.36" x2="121.6" y2="407.36" stroke="#474747" stroke-width="0.9" />
<text x="114.3" y="410.36" font-size="8.3" text-anchor="end">0.4</text>
<line x1="119" y1="390.54" x2="121.6" y2="390.54" stroke="#474747" stroke-width="0.9" />
<text x="114.3" y="393.54" font-size="8.3" text-anchor="end">0.6</text>
<line x1="119" y1="373.72" x2="121.6" y2="373.72" stroke="#474747" stroke-width="0.9" />
<text x="114.3" y="376.72" font-size="8.3" text-anchor="end">0.8</text>
<line x1="119" y1="356.9" x2="121.6" y2="356.9" stroke="#474747" stroke-width="0.9" />
<text x="114.3" y="359.9" font-size="8.3" text-anchor="end">1.0</text>
<line x1="119" y1="340.08" x2="121.6" y2="340.08" stroke="#474747" stroke-width="0.9" />
<text x="114.3" y="343.08" font-size="8.3" text-anchor="end">1.2</text>
<line x1="121.6" y1="441" x2="222.4" y2="441" stroke="#474747" stroke-width="0.9" />
<line x1="134.5" y1="441" x2="134.5" y2="443.3" stroke="#474747" stroke-width="0.9" />
<line x1="159.6" y1="441" x2="159.6" y2="443.3" stroke="#474747" stroke-width="0.9" />
<line x1="185" y1="441" x2="185" y2="443.3" stroke="#474747" stroke-width="0.9" />
<line x1="210.2" y1="441" x2="210.2" y2="443.3" stroke="#474747" stroke-width="0.9" />
<text x="134.5" y="455.6" font-size="8.3" text-anchor="middle">0</text>
<text x="159.6" y="455.6" font-size="8.3" text-anchor="middle">0.5</text>
<text x="185" y="455.6" font-size="8.3" text-anchor="middle">1</text>
<text x="210.2" y="455.6" font-size="8.3" text-anchor="middle">2</text>
<text x="173.7" y="467.6" font-size="8.6" text-anchor="middle">Cisplatin (µM)</text>
<text transform="translate(91.9 390.5) rotate(-90)" font-size="8.5" text-anchor="middle">Survival fraction</text>
<polyline points="134.5,356.9 159.6,386.76 185,403.49 210.2,426.87" fill="none" stroke="#5cd38e" stroke-width="1.35" stroke-linejoin="round"/>
<polyline points="134.5,356.9 159.6,383.31 185,400.72 210.2,424.6" fill="none" stroke="#ebc18b" stroke-width="1.35" stroke-linejoin="round"/>
<polyline points="134.5,356.9 159.6,381.29 185,398.95 210.2,422.08" fill="none" stroke="#ee3a24" stroke-width="1.35" stroke-linejoin="round"/>
<polyline points="134.5,356.9 159.6,362.79 185,371.53 210.2,382.21" fill="none" stroke="#e87c80" stroke-width="1.35" stroke-linejoin="round"/>
<polyline points="134.5,356.9 159.6,361.53 185,367.83 210.2,378.93" fill="none" stroke="#9ec8f0" stroke-width="1.35" stroke-linejoin="round"/>
<polygon points="134.5,359.42 136.81,355.22 132.19,355.22" fill="#5cd38e"/>
<line x1="159.6" y1="384.23" x2="159.6" y2="389.28" stroke="#5cd38e" stroke-width="0.9" />
<line x1="157.1" y1="384.23" x2="162.1" y2="384.23" stroke="#5cd38e" stroke-width="0.9" />
<line x1="157.1" y1="389.28" x2="162.1" y2="389.28" stroke="#5cd38e" stroke-width="0.9" />
<polygon points="159.6,389.28 161.91,385.08 157.29,385.08" fill="#5cd38e"/>
<line x1="185" y1="400.97" x2="185" y2="406.01" stroke="#5cd38e" stroke-width="0.9" />
<line x1="182.5" y1="400.97" x2="187.5" y2="400.97" stroke="#5cd38e" stroke-width="0.9" />
<line x1="182.5" y1="406.01" x2="187.5" y2="406.01" stroke="#5cd38e" stroke-width="0.9" />
<polygon points="185,406.01 187.31,401.81 182.69,401.81" fill="#5cd38e"/>
<line x1="210.2" y1="425.19" x2="210.2" y2="428.55" stroke="#5cd38e" stroke-width="0.9" />
<line x1="207.7" y1="425.19" x2="212.7" y2="425.19" stroke="#5cd38e" stroke-width="0.9" />
<line x1="207.7" y1="428.55" x2="212.7" y2="428.55" stroke="#5cd38e" stroke-width="0.9" />
<polygon points="210.2,429.39 212.51,425.19 207.89,425.19" fill="#5cd38e"/>
<rect x="132.4" y="354.8" width="4.2" height="4.2" fill="#ebc18b" />
<line x1="159.6" y1="379.94" x2="159.6" y2="386.67" stroke="#ebc18b" stroke-width="0.9" />
<line x1="157.1" y1="379.94" x2="162.1" y2="379.94" stroke="#ebc18b" stroke-width="0.9" />
<line x1="157.1" y1="386.67" x2="162.1" y2="386.67" stroke="#ebc18b" stroke-width="0.9" />
<rect x="157.5" y="381.21" width="4.2" height="4.2" fill="#ebc18b" />
<line x1="185" y1="397.35" x2="185" y2="404.08" stroke="#ebc18b" stroke-width="0.9" />
<line x1="182.5" y1="397.35" x2="187.5" y2="397.35" stroke="#ebc18b" stroke-width="0.9" />
<line x1="182.5" y1="404.08" x2="187.5" y2="404.08" stroke="#ebc18b" stroke-width="0.9" />
<rect x="182.9" y="398.62" width="4.2" height="4.2" fill="#ebc18b" />
<line x1="210.2" y1="422.08" x2="210.2" y2="427.12" stroke="#ebc18b" stroke-width="0.9" />
<line x1="207.7" y1="422.08" x2="212.7" y2="422.08" stroke="#ebc18b" stroke-width="0.9" />
<line x1="207.7" y1="427.12" x2="212.7" y2="427.12" stroke="#ebc18b" stroke-width="0.9" />
<rect x="208.1" y="422.5" width="4.2" height="4.2" fill="#ebc18b" />
<polygon points="134.5,354.38 136.6,356.9 134.5,359.42 132.4,356.9" fill="#ee3a24"/>
<line x1="159.6" y1="378.35" x2="159.6" y2="384.23" stroke="#ee3a24" stroke-width="0.9" />
<line x1="157.1" y1="378.35" x2="162.1" y2="378.35" stroke="#ee3a24" stroke-width="0.9" />
<line x1="157.1" y1="384.23" x2="162.1" y2="384.23" stroke="#ee3a24" stroke-width="0.9" />
<polygon points="159.6,378.77 161.7,381.29 159.6,383.81 157.5,381.29" fill="#ee3a24"/>
<line x1="185" y1="396.43" x2="185" y2="401.47" stroke="#ee3a24" stroke-width="0.9" />
<line x1="182.5" y1="396.43" x2="187.5" y2="396.43" stroke="#ee3a24" stroke-width="0.9" />
<line x1="182.5" y1="401.47" x2="187.5" y2="401.47" stroke="#ee3a24" stroke-width="0.9" />
<polygon points="185,396.43 187.1,398.95 185,401.47 182.9,398.95" fill="#ee3a24"/>
<line x1="210.2" y1="419.55" x2="210.2" y2="424.6" stroke="#ee3a24" stroke-width="0.9" />
<line x1="207.7" y1="419.55" x2="212.7" y2="419.55" stroke="#ee3a24" stroke-width="0.9" />
<line x1="207.7" y1="424.6" x2="212.7" y2="424.6" stroke="#ee3a24" stroke-width="0.9" />
<polygon points="210.2,419.56 212.3,422.08 210.2,424.6 208.1,422.08" fill="#ee3a24"/>
<polygon points="134.5,354.38 136.81,358.58 132.19,358.58" fill="#e87c80"/>
<line x1="159.6" y1="361.11" x2="159.6" y2="364.47" stroke="#e87c80" stroke-width="0.9" />
<line x1="157.1" y1="361.11" x2="162.1" y2="361.11" stroke="#e87c80" stroke-width="0.9" />
<line x1="157.1" y1="364.47" x2="162.1" y2="364.47" stroke="#e87c80" stroke-width="0.9" />
<polygon points="159.6,360.27 161.91,364.47 157.29,364.47" fill="#e87c80"/>
<line x1="185" y1="369.01" x2="185" y2="374.06" stroke="#e87c80" stroke-width="0.9" />
<line x1="182.5" y1="369.01" x2="187.5" y2="369.01" stroke="#e87c80" stroke-width="0.9" />
<line x1="182.5" y1="374.06" x2="187.5" y2="374.06" stroke="#e87c80" stroke-width="0.9" />
<polygon points="185,369.01 187.31,373.21 182.69,373.21" fill="#e87c80"/>
<line x1="210.2" y1="378.85" x2="210.2" y2="385.58" stroke="#e87c80" stroke-width="0.9" />
<line x1="207.7" y1="378.85" x2="212.7" y2="378.85" stroke="#e87c80" stroke-width="0.9" />
<line x1="207.7" y1="385.58" x2="212.7" y2="385.58" stroke="#e87c80" stroke-width="0.9" />
<polygon points="210.2,379.69 212.51,383.89 207.89,383.89" fill="#e87c80"/>
<circle cx="134.5" cy="356.9" r="2.1" fill="#9ec8f0"/>
<line x1="159.6" y1="359" x2="159.6" y2="364.05" stroke="#9ec8f0" stroke-width="0.9" />
<line x1="157.1" y1="359" x2="162.1" y2="359" stroke="#9ec8f0" stroke-width="0.9" />
<line x1="157.1" y1="364.05" x2="162.1" y2="364.05" stroke="#9ec8f0" stroke-width="0.9" />
<circle cx="159.6" cy="361.53" r="2.1" fill="#9ec8f0"/>
<line x1="185" y1="365.73" x2="185" y2="369.94" stroke="#9ec8f0" stroke-width="0.9" />
<line x1="182.5" y1="365.73" x2="187.5" y2="365.73" stroke="#9ec8f0" stroke-width="0.9" />
<line x1="182.5" y1="369.94" x2="187.5" y2="369.94" stroke="#9ec8f0" stroke-width="0.9" />
<circle cx="185" cy="367.83" r="2.1" fill="#9ec8f0"/>
<line x1="210.2" y1="374.73" x2="210.2" y2="383.14" stroke="#9ec8f0" stroke-width="0.9" />
<line x1="207.7" y1="374.73" x2="212.7" y2="374.73" stroke="#9ec8f0" stroke-width="0.9" />
<line x1="207.7" y1="383.14" x2="212.7" y2="383.14" stroke="#9ec8f0" stroke-width="0.9" />
<circle cx="210.2" cy="378.93" r="2.1" fill="#9ec8f0"/>
<line x1="222.6" y1="340.5" x2="235" y2="340.5" stroke="#9ec8f0" stroke-width="1" />
<circle cx="228.8" cy="340.5" r="1.8" fill="#9ec8f0"/>
<text x="240.6" y="343.5" font-size="8.55">sgCtrl</text>
<line x1="222.6" y1="353" x2="235" y2="353" stroke="#ebc18b" stroke-width="1" />
<rect x="227" y="351.2" width="3.6" height="3.6" fill="#ebc18b" />
<text x="240.6" y="356" font-size="8.55">sgFSP1 #1</text>
<line x1="222.6" y1="365.4" x2="235" y2="365.4" stroke="#e87c80" stroke-width="1" />
<polygon points="228.8,363.24 230.78,366.84 226.82,366.84" fill="#e87c80"/>
<text x="240.6" y="368.4" font-size="8.55">sgFSP1 #1</text>
<text x="240.6" y="378.8" font-size="8.55">+ FSP1 WT</text>
<line x1="222.6" y1="389.9" x2="235" y2="389.9" stroke="#5cd38e" stroke-width="1" />
<polygon points="228.8,392.06 230.78,388.46 226.82,388.46" fill="#5cd38e"/>
<text x="240.6" y="392.9" font-size="8.55">sgFSP1 #1</text>
<text x="240.6" y="402.8" font-size="8.55">+ FSP1 G2A</text>
<line x1="222.6" y1="414.5" x2="235" y2="414.5" stroke="#ee3a24" stroke-width="1" />
<polygon points="228.8,412.34 230.6,414.5 228.8,416.66 227,414.5" fill="#ee3a24"/>
<text x="240.6" y="417.5" font-size="8.55">shFSP1 #1</text>
<text x="240.6" y="427.4" font-size="8.55">+ FSP1 E156A</text>
<line x1="288.2" y1="340.8" x2="288.2" y2="351.2" stroke="#222" stroke-width="0.9" />
<text transform="translate(297 346.8) rotate(-90)" font-size="8.5" text-anchor="middle"><tspan font-style="italic">P</tspan> &lt; 0.0001</text>
<line x1="300.8" y1="353.4" x2="300.8" y2="365.3" stroke="#777" stroke-width="0.9" />
<text transform="translate(310.2 359.4) rotate(-90)" font-size="8.5" text-anchor="middle"><tspan font-style="italic">P</tspan> &lt; 0.0001</text>
<line x1="315.3" y1="353.4" x2="315.3" y2="418.8" stroke="#222" stroke-width="0.9" />
<line x1="318.3" y1="353.4" x2="318.3" y2="393.5" stroke="#777" stroke-width="0.9" />
<text transform="translate(327.7 373.5) rotate(-90)" font-size="8.5" text-anchor="middle">NS</text>
<text transform="translate(323.7 407) rotate(-90)" font-size="8.5" text-anchor="middle">NS</text>
<text x="372.4" y="332.3" font-size="11" font-weight="bold" fill="#000">i</text>
<line x1="422" y1="339.78" x2="422" y2="441.1" stroke="#474747" stroke-width="0.9" />
<line x1="419.4" y1="441.1" x2="422" y2="441.1" stroke="#474747" stroke-width="0.9" />
<text x="414.4" y="444.1" font-size="8.3" text-anchor="end">0.0</text>
<line x1="419.4" y1="424.28" x2="422" y2="424.28" stroke="#474747" stroke-width="0.9" />
<text x="414.4" y="427.28" font-size="8.3" text-anchor="end">0.2</text>
<line x1="419.4" y1="407.46" x2="422" y2="407.46" stroke="#474747" stroke-width="0.9" />
<text x="414.4" y="410.46" font-size="8.3" text-anchor="end">0.4</text>
<line x1="419.4" y1="390.64" x2="422" y2="390.64" stroke="#474747" stroke-width="0.9" />
<text x="414.4" y="393.64" font-size="8.3" text-anchor="end">0.6</text>
<line x1="419.4" y1="373.82" x2="422" y2="373.82" stroke="#474747" stroke-width="0.9" />
<text x="414.4" y="376.82" font-size="8.3" text-anchor="end">0.8</text>
<line x1="419.4" y1="357" x2="422" y2="357" stroke="#474747" stroke-width="0.9" />
<text x="414.4" y="360" font-size="8.3" text-anchor="end">1.0</text>
<line x1="419.4" y1="340.18" x2="422" y2="340.18" stroke="#474747" stroke-width="0.9" />
<text x="414.4" y="343.18" font-size="8.3" text-anchor="end">1.2</text>
<line x1="422" y1="441.1" x2="522.9" y2="441.1" stroke="#474747" stroke-width="0.9" />
<line x1="434.5" y1="441.1" x2="434.5" y2="443.4" stroke="#474747" stroke-width="0.9" />
<line x1="459.6" y1="441.1" x2="459.6" y2="443.4" stroke="#474747" stroke-width="0.9" />
<line x1="484.9" y1="441.1" x2="484.9" y2="443.4" stroke="#474747" stroke-width="0.9" />
<line x1="510.4" y1="441.1" x2="510.4" y2="443.4" stroke="#474747" stroke-width="0.9" />
<text x="434.5" y="455.4" font-size="8.3" text-anchor="middle">0</text>
<text x="459.6" y="455.4" font-size="8.3" text-anchor="middle">0.5</text>
<text x="484.9" y="455.4" font-size="8.3" text-anchor="middle">1</text>
<text x="510.4" y="455.4" font-size="8.3" text-anchor="middle">2</text>
<text x="473.7" y="467.4" font-size="8.6" text-anchor="middle">Cisplatin (µM)</text>
<text transform="translate(392.3 390) rotate(-90)" font-size="8.5" text-anchor="middle">Survival fraction</text>
<polyline points="434.5,357 459.6,382.23 484.9,398.55 510.4,422.77" fill="none" stroke="#ebc18b" stroke-width="1.35" stroke-linejoin="round"/>
<polyline points="434.5,357 459.6,380.55 484.9,395.94 510.4,417.64" fill="none" stroke="#f060f0" stroke-width="1.35" stroke-linejoin="round"/>
<polyline points="434.5,357 459.6,378.03 484.9,393.42 510.4,413.52" fill="none" stroke="#5cd38e" stroke-width="1.35" stroke-linejoin="round"/>
<polyline points="434.5,357 459.6,379.45 484.9,395.1 510.4,416.96" fill="none" stroke="#ee3a24" stroke-width="1.35" stroke-linejoin="round"/>
<polyline points="434.5,357 459.6,367.93 484.9,375.92 510.4,382.23" fill="none" stroke="#e87c80" stroke-width="1.35" stroke-linejoin="round"/>
<polyline points="434.5,357 459.6,362.05 484.9,371.3 510.4,377.69" fill="none" stroke="#9ec8f0" stroke-width="1.35" stroke-linejoin="round"/>
<rect x="432.4" y="354.9" width="4.2" height="4.2" fill="#ebc18b" />
<line x1="459.6" y1="378.87" x2="459.6" y2="385.59" stroke="#ebc18b" stroke-width="0.9" />
<line x1="457.1" y1="378.87" x2="462.1" y2="378.87" stroke="#ebc18b" stroke-width="0.9" />
<line x1="457.1" y1="385.59" x2="462.1" y2="385.59" stroke="#ebc18b" stroke-width="0.9" />
<rect x="457.5" y="380.13" width="4.2" height="4.2" fill="#ebc18b" />
<line x1="484.9" y1="394.34" x2="484.9" y2="402.75" stroke="#ebc18b" stroke-width="0.9" />
<line x1="482.4" y1="394.34" x2="487.4" y2="394.34" stroke="#ebc18b" stroke-width="0.9" />
<line x1="482.4" y1="402.75" x2="487.4" y2="402.75" stroke="#ebc18b" stroke-width="0.9" />
<rect x="482.8" y="396.45" width="4.2" height="4.2" fill="#ebc18b" />
<line x1="510.4" y1="420.24" x2="510.4" y2="425.29" stroke="#ebc18b" stroke-width="0.9" />
<line x1="507.9" y1="420.24" x2="512.9" y2="420.24" stroke="#ebc18b" stroke-width="0.9" />
<line x1="507.9" y1="425.29" x2="512.9" y2="425.29" stroke="#ebc18b" stroke-width="0.9" />
<rect x="508.3" y="420.67" width="4.2" height="4.2" fill="#ebc18b" />
<circle cx="434.5" cy="357" r="2.1" fill="#f060f0"/>
<line x1="459.6" y1="378.03" x2="459.6" y2="383.07" stroke="#f060f0" stroke-width="0.9" />
<line x1="457.1" y1="378.03" x2="462.1" y2="378.03" stroke="#f060f0" stroke-width="0.9" />
<line x1="457.1" y1="383.07" x2="462.1" y2="383.07" stroke="#f060f0" stroke-width="0.9" />
<circle cx="459.6" cy="380.55" r="2.1" fill="#f060f0"/>
<line x1="484.9" y1="393.42" x2="484.9" y2="398.46" stroke="#f060f0" stroke-width="0.9" />
<line x1="482.4" y1="393.42" x2="487.4" y2="393.42" stroke="#f060f0" stroke-width="0.9" />
<line x1="482.4" y1="398.46" x2="487.4" y2="398.46" stroke="#f060f0" stroke-width="0.9" />
<circle cx="484.9" cy="395.94" r="2.1" fill="#f060f0"/>
<line x1="510.4" y1="415.11" x2="510.4" y2="420.16" stroke="#f060f0" stroke-width="0.9" />
<line x1="507.9" y1="415.11" x2="512.9" y2="415.11" stroke="#f060f0" stroke-width="0.9" />
<line x1="507.9" y1="420.16" x2="512.9" y2="420.16" stroke="#f060f0" stroke-width="0.9" />
<circle cx="510.4" cy="417.64" r="2.1" fill="#f060f0"/>
<polygon points="434.5,359.52 436.81,355.32 432.19,355.32" fill="#5cd38e"/>
<line x1="459.6" y1="375.5" x2="459.6" y2="380.55" stroke="#5cd38e" stroke-width="0.9" />
<line x1="457.1" y1="375.5" x2="462.1" y2="375.5" stroke="#5cd38e" stroke-width="0.9" />
<line x1="457.1" y1="380.55" x2="462.1" y2="380.55" stroke="#5cd38e" stroke-width="0.9" />
<polygon points="459.6,380.55 461.91,376.35 457.29,376.35" fill="#5cd38e"/>
<line x1="484.9" y1="390.89" x2="484.9" y2="395.94" stroke="#5cd38e" stroke-width="0.9" />
<line x1="482.4" y1="390.89" x2="487.4" y2="390.89" stroke="#5cd38e" stroke-width="0.9" />
<line x1="482.4" y1="395.94" x2="487.4" y2="395.94" stroke="#5cd38e" stroke-width="0.9" />
<polygon points="484.9,395.94 487.21,391.74 482.59,391.74" fill="#5cd38e"/>
<line x1="510.4" y1="410.15" x2="510.4" y2="416.88" stroke="#5cd38e" stroke-width="0.9" />
<line x1="507.9" y1="410.15" x2="512.9" y2="410.15" stroke="#5cd38e" stroke-width="0.9" />
<line x1="507.9" y1="416.88" x2="512.9" y2="416.88" stroke="#5cd38e" stroke-width="0.9" />
<polygon points="510.4,416.04 512.71,411.84 508.09,411.84" fill="#5cd38e"/>
<polygon points="434.5,354.48 436.6,357 434.5,359.52 432.4,357" fill="#ee3a24"/>
<line x1="459.6" y1="376.93" x2="459.6" y2="381.98" stroke="#ee3a24" stroke-width="0.9" />
<line x1="457.1" y1="376.93" x2="462.1" y2="376.93" stroke="#ee3a24" stroke-width="0.9" />
<line x1="457.1" y1="381.98" x2="462.1" y2="381.98" stroke="#ee3a24" stroke-width="0.9" />
<polygon points="459.6,376.93 461.7,379.45 459.6,381.97 457.5,379.45" fill="#ee3a24"/>
<line x1="484.9" y1="392.57" x2="484.9" y2="397.62" stroke="#ee3a24" stroke-width="0.9" />
<line x1="482.4" y1="392.57" x2="487.4" y2="392.57" stroke="#ee3a24" stroke-width="0.9" />
<line x1="482.4" y1="397.62" x2="487.4" y2="397.62" stroke="#ee3a24" stroke-width="0.9" />
<polygon points="484.9,392.58 487,395.1 484.9,397.62 482.8,395.1" fill="#ee3a24"/>
<line x1="510.4" y1="414.44" x2="510.4" y2="419.49" stroke="#ee3a24" stroke-width="0.9" />
<line x1="507.9" y1="414.44" x2="512.9" y2="414.44" stroke="#ee3a24" stroke-width="0.9" />
<line x1="507.9" y1="419.49" x2="512.9" y2="419.49" stroke="#ee3a24" stroke-width="0.9" />
<polygon points="510.4,414.44 512.5,416.96 510.4,419.48 508.3,416.96" fill="#ee3a24"/>
<polygon points="434.5,354.48 436.81,358.68 432.19,358.68" fill="#e87c80"/>
<line x1="459.6" y1="366.25" x2="459.6" y2="369.62" stroke="#e87c80" stroke-width="0.9" />
<line x1="457.1" y1="366.25" x2="462.1" y2="366.25" stroke="#e87c80" stroke-width="0.9" />
<line x1="457.1" y1="369.62" x2="462.1" y2="369.62" stroke="#e87c80" stroke-width="0.9" />
<polygon points="459.6,365.41 461.91,369.61 457.29,369.61" fill="#e87c80"/>
<line x1="484.9" y1="373.4" x2="484.9" y2="378.45" stroke="#e87c80" stroke-width="0.9" />
<line x1="482.4" y1="373.4" x2="487.4" y2="373.4" stroke="#e87c80" stroke-width="0.9" />
<line x1="482.4" y1="378.45" x2="487.4" y2="378.45" stroke="#e87c80" stroke-width="0.9" />
<polygon points="484.9,373.4 487.21,377.6 482.59,377.6" fill="#e87c80"/>
<line x1="510.4" y1="380.55" x2="510.4" y2="383.91" stroke="#e87c80" stroke-width="0.9" />
<line x1="507.9" y1="380.55" x2="512.9" y2="380.55" stroke="#e87c80" stroke-width="0.9" />
<line x1="507.9" y1="383.91" x2="512.9" y2="383.91" stroke="#e87c80" stroke-width="0.9" />
<polygon points="510.4,379.71 512.71,383.91 508.09,383.91" fill="#e87c80"/>
<circle cx="434.5" cy="357" r="2.1" fill="#9ec8f0"/>
<line x1="459.6" y1="359.52" x2="459.6" y2="364.57" stroke="#9ec8f0" stroke-width="0.9" />
<line x1="457.1" y1="359.52" x2="462.1" y2="359.52" stroke="#9ec8f0" stroke-width="0.9" />
<line x1="457.1" y1="364.57" x2="462.1" y2="364.57" stroke="#9ec8f0" stroke-width="0.9" />
<circle cx="459.6" cy="362.05" r="2.1" fill="#9ec8f0"/>
<line x1="484.9" y1="369.62" x2="484.9" y2="372.98" stroke="#9ec8f0" stroke-width="0.9" />
<line x1="482.4" y1="369.62" x2="487.4" y2="369.62" stroke="#9ec8f0" stroke-width="0.9" />
<line x1="482.4" y1="372.98" x2="487.4" y2="372.98" stroke="#9ec8f0" stroke-width="0.9" />
<circle cx="484.9" cy="371.3" r="2.1" fill="#9ec8f0"/>
<line x1="510.4" y1="375.17" x2="510.4" y2="380.21" stroke="#9ec8f0" stroke-width="0.9" />
<line x1="507.9" y1="375.17" x2="512.9" y2="375.17" stroke="#9ec8f0" stroke-width="0.9" />
<line x1="507.9" y1="380.21" x2="512.9" y2="380.21" stroke="#9ec8f0" stroke-width="0.9" />
<circle cx="510.4" cy="377.69" r="2.1" fill="#9ec8f0"/>
<line x1="523.9" y1="340.2" x2="537" y2="340.2" stroke="#9ec8f0" stroke-width="1" />
<circle cx="530.45" cy="340.2" r="1.8" fill="#9ec8f0"/>
<text x="541.6" y="343.2" font-size="8.55">sgCtrl</text>
<line x1="523.9" y1="352.9" x2="537" y2="352.9" stroke="#ebc18b" stroke-width="1" />
<rect x="528.65" y="351.1" width="3.6" height="3.6" fill="#ebc18b" />
<text x="541.6" y="355.9" font-size="8.55">sgFSP1 #1</text>
<line x1="523.9" y1="365.4" x2="537" y2="365.4" stroke="#e87c80" stroke-width="1" />
<polygon points="530.45,363.24 532.43,366.84 528.47,366.84" fill="#e87c80"/>
<text x="541.6" y="368.4" font-size="8.55">sgFSP1 #1</text>
<text x="541.6" y="378.4" font-size="8.55">+ Lip-1</text>
<line x1="523.9" y1="390.1" x2="537" y2="390.1" stroke="#5cd38e" stroke-width="1" />
<polygon points="530.45,392.26 532.43,388.66 528.47,388.66" fill="#5cd38e"/>
<text x="541.6" y="393.1" font-size="8.55">sgFSP1 #1</text>
<text x="541.6" y="403.1" font-size="8.55">+ Z-VAD</text>
<line x1="523.9" y1="415.3" x2="537" y2="415.3" stroke="#ee3a24" stroke-width="1" />
<polygon points="530.45,413.14 532.25,415.3 530.45,417.46 528.65,415.3" fill="#ee3a24"/>
<text x="541.6" y="418.3" font-size="8.55">sgFSP1 #1</text>
<text x="541.6" y="428.3" font-size="8.55">+ 3-MA</text>
<line x1="523.9" y1="440.2" x2="537" y2="440.2" stroke="#f060f0" stroke-width="1" />
<circle cx="530.45" cy="440.2" r="1.8" fill="#f060f0"/>
<text x="541.6" y="443.2" font-size="8.55">sgFSP1 #1</text>
<text x="541.6" y="453.2" font-size="8.55">+ Nec-1s</text>
<line x1="589.2" y1="341.2" x2="589.2" y2="350.9" stroke="#222" stroke-width="0.9" />
<text transform="translate(598.6 346) rotate(-90)" font-size="8.5" text-anchor="middle"><tspan font-style="italic">P</tspan> &lt; 0.0001</text>
<line x1="602" y1="353.8" x2="602" y2="365.3" stroke="#555" stroke-width="0.9" />
<text transform="translate(612.1 359.5) rotate(-90)" font-size="8.5" text-anchor="middle"><tspan font-style="italic">P</tspan> &lt; 0.0001</text>
<line x1="616.4" y1="352.8" x2="616.4" y2="439.6" stroke="#222" stroke-width="0.9" />
<line x1="619.3" y1="352.8" x2="619.3" y2="417.4" stroke="#222" stroke-width="0.9" />
<line x1="622" y1="352.8" x2="622" y2="392.9" stroke="#222" stroke-width="0.9" />
<text transform="translate(632.3 373.5) rotate(-90)" font-size="8.5" text-anchor="middle">NS</text>
<text transform="translate(629.3 404.4) rotate(-90)" font-size="8.5" text-anchor="middle">NS</text>
<text transform="translate(626.4 429.5) rotate(-90)" font-size="8.5" text-anchor="middle">NS</text>
<text x="67.3" y="515.6" font-size="11" font-weight="bold" fill="#000">j</text>
<text x="170.5" y="515.6" font-size="8.6" text-anchor="middle">AGS-R xenograft</text>
<line x1="119.4" y1="524.3" x2="119.4" y2="625.3" stroke="#474747" stroke-width="0.9" />
<line x1="116.8" y1="625.3" x2="119.4" y2="625.3" stroke="#474747" stroke-width="0.9" />
<text x="112.3" y="628.35" font-size="8.5" text-anchor="end">0</text>
<line x1="116.8" y1="605.18" x2="119.4" y2="605.18" stroke="#474747" stroke-width="0.9" />
<text x="112.3" y="608.23" font-size="8.5" text-anchor="end">200</text>
<line x1="116.8" y1="585.06" x2="119.4" y2="585.06" stroke="#474747" stroke-width="0.9" />
<text x="112.3" y="588.11" font-size="8.5" text-anchor="end">400</text>
<line x1="116.8" y1="564.94" x2="119.4" y2="564.94" stroke="#474747" stroke-width="0.9" />
<text x="112.3" y="567.99" font-size="8.5" text-anchor="end">600</text>
<line x1="116.8" y1="544.82" x2="119.4" y2="544.82" stroke="#474747" stroke-width="0.9" />
<text x="112.3" y="547.87" font-size="8.5" text-anchor="end">800</text>
<line x1="116.8" y1="524.7" x2="119.4" y2="524.7" stroke="#474747" stroke-width="0.9" />
<text x="112.3" y="527.75" font-size="8.5" text-anchor="end">1000</text>
<line x1="119.4" y1="625.3" x2="219.2" y2="625.3" stroke="#474747" stroke-width="0.9" />
<line x1="129.7" y1="625.3" x2="129.7" y2="627.6" stroke="#474747" stroke-width="0.9" />
<line x1="150.3" y1="625.3" x2="150.3" y2="627.6" stroke="#474747" stroke-width="0.9" />
<line x1="170.5" y1="625.3" x2="170.5" y2="627.6" stroke="#474747" stroke-width="0.9" />
<line x1="190.9" y1="625.3" x2="190.9" y2="627.6" stroke="#474747" stroke-width="0.9" />
<line x1="211.1" y1="625.3" x2="211.1" y2="627.6" stroke="#474747" stroke-width="0.9" />
<text x="129.7" y="640.3" font-size="8.3" text-anchor="middle">1</text>
<text x="150.3" y="640.3" font-size="8.3" text-anchor="middle">7</text>
<text x="170.5" y="640.3" font-size="8.3" text-anchor="middle">14</text>
<text x="190.9" y="640.3" font-size="8.3" text-anchor="middle">21</text>
<text x="211.1" y="640.3" font-size="8.3" text-anchor="middle">28</text>
<text x="170.4" y="651" font-size="8.6" text-anchor="middle">Days after treatment</text>
<text transform="translate(84.8 574.3) rotate(-90)" font-size="8.6" text-anchor="middle">Tumor volume (mm<tspan font-size="4.8" dy="-3.2">3</tspan><tspan dy="3.2">)</tspan></text>
<polyline points="129.7,616.04 150.3,612.93 170.5,611.42 190.9,611.12 211.1,610.61" fill="none" stroke="#5cd38e" stroke-width="1.35" stroke-linejoin="round"/>
<polyline points="129.7,615.24 150.3,608.5 170.5,601.86 190.9,591.6 211.1,584.15" fill="none" stroke="#c88af2" stroke-width="1.35" stroke-linejoin="round"/>
<polyline points="129.7,615.24 150.3,603.27 170.5,590.79 190.9,580.53 211.1,569.37" fill="none" stroke="#7c7cf2" stroke-width="1.35" stroke-linejoin="round"/>
<polyline points="129.7,616.25 150.3,601.56 170.5,589.99 190.9,578.52 211.1,566.85" fill="none" stroke="#e87c80" stroke-width="1.35" stroke-linejoin="round"/>
<polyline points="129.7,615.74 150.3,601.16 170.5,584.15 190.9,567.25 211.1,556.19" fill="none" stroke="#ebc18b" stroke-width="1.35" stroke-linejoin="round"/>
<polyline points="129.7,615.24 150.3,599.65 170.5,579.43 190.9,563.53 211.1,548.54" fill="none" stroke="#9ec8f0" stroke-width="1.35" stroke-linejoin="round"/>
<polygon points="129.7,618.56 132.01,614.36 127.39,614.36" fill="#5cd38e"/>
<line x1="150.3" y1="611.72" x2="150.3" y2="614.13" stroke="#5cd38e" stroke-width="0.9" />
<line x1="147.8" y1="611.72" x2="152.8" y2="611.72" stroke="#5cd38e" stroke-width="0.9" />
<line x1="147.8" y1="614.13" x2="152.8" y2="614.13" stroke="#5cd38e" stroke-width="0.9" />
<polygon points="150.3,615.45 152.61,611.25 147.99,611.25" fill="#5cd38e"/>
<line x1="170.5" y1="608.9" x2="170.5" y2="613.93" stroke="#5cd38e" stroke-width="0.9" />
<line x1="168" y1="608.9" x2="173" y2="608.9" stroke="#5cd38e" stroke-width="0.9" />
<line x1="168" y1="613.93" x2="173" y2="613.93" stroke="#5cd38e" stroke-width="0.9" />
<polygon points="170.5,613.94 172.81,609.74 168.19,609.74" fill="#5cd38e"/>
<line x1="190.9" y1="608.6" x2="190.9" y2="613.63" stroke="#5cd38e" stroke-width="0.9" />
<line x1="188.4" y1="608.6" x2="193.4" y2="608.6" stroke="#5cd38e" stroke-width="0.9" />
<line x1="188.4" y1="613.63" x2="193.4" y2="613.63" stroke="#5cd38e" stroke-width="0.9" />
<polygon points="190.9,613.64 193.21,609.44 188.59,609.44" fill="#5cd38e"/>
<line x1="211.1" y1="607.8" x2="211.1" y2="613.43" stroke="#5cd38e" stroke-width="0.9" />
<line x1="208.6" y1="607.8" x2="213.6" y2="607.8" stroke="#5cd38e" stroke-width="0.9" />
<line x1="208.6" y1="613.43" x2="213.6" y2="613.43" stroke="#5cd38e" stroke-width="0.9" />
<polygon points="211.1,613.13 213.41,608.93 208.79,608.93" fill="#5cd38e"/>
<rect x="127.6" y="613.14" width="4.2" height="4.2" fill="#c88af2" />
<line x1="150.3" y1="606.49" x2="150.3" y2="610.51" stroke="#c88af2" stroke-width="0.9" />
<line x1="147.8" y1="606.49" x2="152.8" y2="606.49" stroke="#c88af2" stroke-width="0.9" />
<line x1="147.8" y1="610.51" x2="152.8" y2="610.51" stroke="#c88af2" stroke-width="0.9" />
<rect x="148.2" y="606.4" width="4.2" height="4.2" fill="#c88af2" />
<line x1="170.5" y1="599.35" x2="170.5" y2="604.38" stroke="#c88af2" stroke-width="0.9" />
<line x1="168" y1="599.35" x2="173" y2="599.35" stroke="#c88af2" stroke-width="0.9" />
<line x1="168" y1="604.38" x2="173" y2="604.38" stroke="#c88af2" stroke-width="0.9" />
<rect x="168.4" y="599.76" width="4.2" height="4.2" fill="#c88af2" />
<line x1="190.9" y1="587.07" x2="190.9" y2="596.13" stroke="#c88af2" stroke-width="0.9" />
<line x1="188.4" y1="587.07" x2="193.4" y2="587.07" stroke="#c88af2" stroke-width="0.9" />
<line x1="188.4" y1="596.13" x2="193.4" y2="596.13" stroke="#c88af2" stroke-width="0.9" />
<rect x="188.8" y="589.5" width="4.2" height="4.2" fill="#c88af2" />
<line x1="211.1" y1="579.63" x2="211.1" y2="588.68" stroke="#c88af2" stroke-width="0.9" />
<line x1="208.6" y1="579.63" x2="213.6" y2="579.63" stroke="#c88af2" stroke-width="0.9" />
<line x1="208.6" y1="588.68" x2="213.6" y2="588.68" stroke="#c88af2" stroke-width="0.9" />
<rect x="209" y="582.05" width="4.2" height="4.2" fill="#c88af2" />
<polygon points="129.7,612.72 131.8,615.24 129.7,617.76 127.6,615.24" fill="#7c7cf2"/>
<line x1="150.3" y1="601.26" x2="150.3" y2="605.28" stroke="#7c7cf2" stroke-width="0.9" />
<line x1="147.8" y1="601.26" x2="152.8" y2="601.26" stroke="#7c7cf2" stroke-width="0.9" />
<line x1="147.8" y1="605.28" x2="152.8" y2="605.28" stroke="#7c7cf2" stroke-width="0.9" />
<polygon points="150.3,600.75 152.4,603.27 150.3,605.79 148.2,603.27" fill="#7c7cf2"/>
<line x1="170.5" y1="587.78" x2="170.5" y2="593.81" stroke="#7c7cf2" stroke-width="0.9" />
<line x1="168" y1="587.78" x2="173" y2="587.78" stroke="#7c7cf2" stroke-width="0.9" />
<line x1="168" y1="593.81" x2="173" y2="593.81" stroke="#7c7cf2" stroke-width="0.9" />
<polygon points="170.5,588.27 172.6,590.79 170.5,593.31 168.4,590.79" fill="#7c7cf2"/>
<line x1="190.9" y1="577.01" x2="190.9" y2="584.05" stroke="#7c7cf2" stroke-width="0.9" />
<line x1="188.4" y1="577.01" x2="193.4" y2="577.01" stroke="#7c7cf2" stroke-width="0.9" />
<line x1="188.4" y1="584.05" x2="193.4" y2="584.05" stroke="#7c7cf2" stroke-width="0.9" />
<polygon points="190.9,578.01 193,580.53 190.9,583.05 188.8,580.53" fill="#7c7cf2"/>
<line x1="211.1" y1="565.34" x2="211.1" y2="573.39" stroke="#7c7cf2" stroke-width="0.9" />
<line x1="208.6" y1="565.34" x2="213.6" y2="565.34" stroke="#7c7cf2" stroke-width="0.9" />
<line x1="208.6" y1="573.39" x2="213.6" y2="573.39" stroke="#7c7cf2" stroke-width="0.9" />
<polygon points="211.1,566.85 213.2,569.37 211.1,571.89 209,569.37" fill="#7c7cf2"/>
<polygon points="129.7,613.73 132.01,617.93 127.39,617.93" fill="#e87c80"/>
<line x1="150.3" y1="598.04" x2="150.3" y2="605.08" stroke="#e87c80" stroke-width="0.9" />
<line x1="147.8" y1="598.04" x2="152.8" y2="598.04" stroke="#e87c80" stroke-width="0.9" />
<line x1="147.8" y1="605.08" x2="152.8" y2="605.08" stroke="#e87c80" stroke-width="0.9" />
<polygon points="150.3,599.04 152.61,603.24 147.99,603.24" fill="#e87c80"/>
<line x1="170.5" y1="585.46" x2="170.5" y2="594.52" stroke="#e87c80" stroke-width="0.9" />
<line x1="168" y1="585.46" x2="173" y2="585.46" stroke="#e87c80" stroke-width="0.9" />
<line x1="168" y1="594.52" x2="173" y2="594.52" stroke="#e87c80" stroke-width="0.9" />
<polygon points="170.5,587.47 172.81,591.67 168.19,591.67" fill="#e87c80"/>
<line x1="190.9" y1="574.5" x2="190.9" y2="582.54" stroke="#e87c80" stroke-width="0.9" />
<line x1="188.4" y1="574.5" x2="193.4" y2="574.5" stroke="#e87c80" stroke-width="0.9" />
<line x1="188.4" y1="582.54" x2="193.4" y2="582.54" stroke="#e87c80" stroke-width="0.9" />
<polygon points="190.9,576 193.21,580.2 188.59,580.2" fill="#e87c80"/>
<line x1="211.1" y1="563.33" x2="211.1" y2="570.37" stroke="#e87c80" stroke-width="0.9" />
<line x1="208.6" y1="563.33" x2="213.6" y2="563.33" stroke="#e87c80" stroke-width="0.9" />
<line x1="208.6" y1="570.37" x2="213.6" y2="570.37" stroke="#e87c80" stroke-width="0.9" />
<polygon points="211.1,564.33 213.41,568.53 208.79,568.53" fill="#e87c80"/>
<rect x="127.6" y="613.64" width="4.2" height="4.2" fill="#ebc18b" />
<line x1="150.3" y1="597.63" x2="150.3" y2="604.68" stroke="#ebc18b" stroke-width="0.9" />
<line x1="147.8" y1="597.63" x2="152.8" y2="597.63" stroke="#ebc18b" stroke-width="0.9" />
<line x1="147.8" y1="604.68" x2="152.8" y2="604.68" stroke="#ebc18b" stroke-width="0.9" />
<rect x="148.2" y="599.06" width="4.2" height="4.2" fill="#ebc18b" />
<line x1="170.5" y1="579.12" x2="170.5" y2="589.18" stroke="#ebc18b" stroke-width="0.9" />
<line x1="168" y1="579.12" x2="173" y2="579.12" stroke="#ebc18b" stroke-width="0.9" />
<line x1="168" y1="589.18" x2="173" y2="589.18" stroke="#ebc18b" stroke-width="0.9" />
<rect x="168.4" y="582.05" width="4.2" height="4.2" fill="#ebc18b" />
<line x1="190.9" y1="562.22" x2="190.9" y2="572.28" stroke="#ebc18b" stroke-width="0.9" />
<line x1="188.4" y1="562.22" x2="193.4" y2="562.22" stroke="#ebc18b" stroke-width="0.9" />
<line x1="188.4" y1="572.28" x2="193.4" y2="572.28" stroke="#ebc18b" stroke-width="0.9" />
<rect x="188.8" y="565.15" width="4.2" height="4.2" fill="#ebc18b" />
<line x1="211.1" y1="550.15" x2="211.1" y2="562.22" stroke="#ebc18b" stroke-width="0.9" />
<line x1="208.6" y1="550.15" x2="213.6" y2="550.15" stroke="#ebc18b" stroke-width="0.9" />
<line x1="208.6" y1="562.22" x2="213.6" y2="562.22" stroke="#ebc18b" stroke-width="0.9" />
<rect x="209" y="554.09" width="4.2" height="4.2" fill="#ebc18b" />
<circle cx="129.7" cy="615.24" r="2.1" fill="#9ec8f0"/>
<line x1="150.3" y1="596.13" x2="150.3" y2="603.17" stroke="#9ec8f0" stroke-width="0.9" />
<line x1="147.8" y1="596.13" x2="152.8" y2="596.13" stroke="#9ec8f0" stroke-width="0.9" />
<line x1="147.8" y1="603.17" x2="152.8" y2="603.17" stroke="#9ec8f0" stroke-width="0.9" />
<circle cx="150.3" cy="599.65" r="2.1" fill="#9ec8f0"/>
<line x1="170.5" y1="573.89" x2="170.5" y2="584.96" stroke="#9ec8f0" stroke-width="0.9" />
<line x1="168" y1="573.89" x2="173" y2="573.89" stroke="#9ec8f0" stroke-width="0.9" />
<line x1="168" y1="584.96" x2="173" y2="584.96" stroke="#9ec8f0" stroke-width="0.9" />
<circle cx="170.5" cy="579.43" r="2.1" fill="#9ec8f0"/>
<line x1="190.9" y1="556.49" x2="190.9" y2="570.57" stroke="#9ec8f0" stroke-width="0.9" />
<line x1="188.4" y1="556.49" x2="193.4" y2="556.49" stroke="#9ec8f0" stroke-width="0.9" />
<line x1="188.4" y1="570.57" x2="193.4" y2="570.57" stroke="#9ec8f0" stroke-width="0.9" />
<circle cx="190.9" cy="563.53" r="2.1" fill="#9ec8f0"/>
<line x1="211.1" y1="540.49" x2="211.1" y2="556.59" stroke="#9ec8f0" stroke-width="0.9" />
<line x1="208.6" y1="540.49" x2="213.6" y2="540.49" stroke="#9ec8f0" stroke-width="0.9" />
<line x1="208.6" y1="556.59" x2="213.6" y2="556.59" stroke="#9ec8f0" stroke-width="0.9" />
<circle cx="211.1" cy="548.54" r="2.1" fill="#9ec8f0"/>
<line x1="227.7" y1="523.9" x2="242.6" y2="523.9" stroke="#9ec8f0" stroke-width="1" />
<circle cx="235.15" cy="523.9" r="1.8" fill="#9ec8f0"/>
<text x="249.1" y="526.7" font-size="8.35">sgCtrl; Vehicle</text>
<line x1="227.7" y1="537.9" x2="242.6" y2="537.9" stroke="#ebc18b" stroke-width="1" />
<rect x="233.35" y="536.1" width="3.6" height="3.6" fill="#ebc18b" />
<text x="249.1" y="540.7" font-size="8.35">sgCtrl; Cisplatin</text>
<line x1="227.7" y1="556.3" x2="242.6" y2="556.3" stroke="#e87c80" stroke-width="1" />
<polygon points="235.15,554.14 237.13,557.74 233.17,557.74" fill="#e87c80"/>
<text x="249.1" y="553.7" font-size="8.35">sgFSP1 #1;</text>
<text x="249.1" y="563.5" font-size="8.35">Vehicle</text>
<line x1="227.7" y1="579" x2="242.6" y2="579" stroke="#5cd38e" stroke-width="1" />
<polygon points="235.15,581.16 237.13,577.56 233.17,577.56" fill="#5cd38e"/>
<text x="249.1" y="576.6" font-size="8.35">sgFSP1 #1;</text>
<text x="249.1" y="586.4" font-size="8.35">Cisplatin</text>
<line x1="227.7" y1="602.2" x2="242.6" y2="602.2" stroke="#7c7cf2" stroke-width="1" />
<polygon points="235.15,600.04 236.95,602.2 235.15,604.36 233.35,602.2" fill="#7c7cf2"/>
<text x="249.1" y="599.7" font-size="8.35">sgFSP1 #1;</text>
<text x="249.1" y="609.5" font-size="8.35">Lip-1</text>
<line x1="227.7" y1="625.2" x2="242.6" y2="625.2" stroke="#c88af2" stroke-width="1" />
<rect x="233.35" y="623.4" width="3.6" height="3.6" fill="#c88af2" />
<text x="249.1" y="622.7" font-size="8.35">sgFSP1 #1;</text>
<text x="249.1" y="632.5" font-size="8.35">Cisplatin+Lip-1</text>
<line x1="301.7" y1="556.7" x2="301.7" y2="578.3" stroke="#222" stroke-width="0.9" />
<text transform="translate(310.3 567.5) rotate(-90)" font-size="8.5" text-anchor="middle"><tspan font-style="italic">P</tspan> &lt; 0.0001</text>
<line x1="318" y1="538.2" x2="318" y2="578.3" stroke="#222" stroke-width="0.9" />
<text transform="translate(327.5 558.6) rotate(-90)" font-size="8.5" text-anchor="middle"><tspan font-style="italic">P</tspan> &lt; 0.0001</text>
<line x1="313.6" y1="579.8" x2="313.6" y2="624.3" stroke="#222" stroke-width="0.9" />
<text transform="translate(322.1 602.4) rotate(-90)" font-size="8.5" text-anchor="middle"><tspan font-style="italic">P</tspan> &lt; 0.0001</text>
<text x="372.8" y="516.2" font-size="11" font-weight="bold" fill="#000">k</text>
<line x1="421.3" y1="523.8" x2="421.3" y2="625.5" stroke="#2e2e2e" stroke-width="0.9" />
<line x1="418.7" y1="625.5" x2="421.3" y2="625.5" stroke="#2e2e2e" stroke-width="0.9" />
<text x="414.4" y="628.5" font-size="8.3" text-anchor="end">0.0</text>
<line x1="418.7" y1="591.73" x2="421.3" y2="591.73" stroke="#2e2e2e" stroke-width="0.9" />
<text x="414.4" y="594.73" font-size="8.3" text-anchor="end">0.5</text>
<line x1="418.7" y1="557.97" x2="421.3" y2="557.97" stroke="#2e2e2e" stroke-width="0.9" />
<text x="414.4" y="560.97" font-size="8.3" text-anchor="end">1.0</text>
<line x1="418.7" y1="524.2" x2="421.3" y2="524.2" stroke="#2e2e2e" stroke-width="0.9" />
<text x="414.4" y="527.2" font-size="8.3" text-anchor="end">1.5</text>
<line x1="421.3" y1="625.5" x2="522" y2="625.5" stroke="#2e2e2e" stroke-width="0.9" />
<line x1="432.4" y1="625.5" x2="432.4" y2="627.8" stroke="#2e2e2e" stroke-width="0.9" />
<line x1="449" y1="625.5" x2="449" y2="627.8" stroke="#2e2e2e" stroke-width="0.9" />
<line x1="465.7" y1="625.5" x2="465.7" y2="627.8" stroke="#2e2e2e" stroke-width="0.9" />
<line x1="482" y1="625.5" x2="482" y2="627.8" stroke="#2e2e2e" stroke-width="0.9" />
<line x1="498.7" y1="625.5" x2="498.7" y2="627.8" stroke="#2e2e2e" stroke-width="0.9" />
<line x1="515.3" y1="625.5" x2="515.3" y2="627.8" stroke="#2e2e2e" stroke-width="0.9" />
<text transform="translate(394.4 574.8) rotate(-90)" font-size="8.5" text-anchor="middle">Tumor weight (g)</text>
<circle cx="429" cy="554.7" r="2.2" fill="#9ec8f0"/>
<circle cx="435.7" cy="557.1" r="2.2" fill="#9ec8f0"/>
<circle cx="428.7" cy="560.4" r="2.2" fill="#9ec8f0"/>
<circle cx="436" cy="561.5" r="2.2" fill="#9ec8f0"/>
<circle cx="432.8" cy="567.6" r="2.2" fill="#9ec8f0"/>
<circle cx="432.3" cy="560.5" r="2.2" fill="#9ec8f0"/>
<line x1="429.4" y1="560.3" x2="435.4" y2="560.3" stroke="#fff" stroke-width="0.6" opacity="0.8"/>
<line x1="432.4" y1="558.5" x2="432.4" y2="562.1" stroke="#fff" stroke-width="0.6" opacity="0.8"/>
<line x1="430.6" y1="558.5" x2="434.2" y2="558.5" stroke="#fff" stroke-width="0.6" opacity="0.8"/>
<line x1="430.6" y1="562.1" x2="434.2" y2="562.1" stroke="#fff" stroke-width="0.6" opacity="0.8"/>
<rect x="443.35" y="558.95" width="4.3" height="4.3" fill="#ebc18b" />
<rect x="450.35" y="562.25" width="4.3" height="4.3" fill="#ebc18b" />
<rect x="443.35" y="563.05" width="4.3" height="4.3" fill="#ebc18b" />
<rect x="450.35" y="567.75" width="4.3" height="4.3" fill="#ebc18b" />
<rect x="443.35" y="570.65" width="4.3" height="4.3" fill="#ebc18b" />
<rect x="446.65" y="565.15" width="4.3" height="4.3" fill="#ebc18b" />
<line x1="446" y1="566.78" x2="452" y2="566.78" stroke="#fff" stroke-width="0.6" opacity="0.8"/>
<line x1="449" y1="564.98" x2="449" y2="568.58" stroke="#fff" stroke-width="0.6" opacity="0.8"/>
<line x1="447.2" y1="564.98" x2="450.8" y2="564.98" stroke="#fff" stroke-width="0.6" opacity="0.8"/>
<line x1="447.2" y1="568.58" x2="450.8" y2="568.58" stroke="#fff" stroke-width="0.6" opacity="0.8"/>
<polygon points="462,569.64 464.53,574.24 459.47,574.24" fill="#e87c80"/>
<polygon points="468.9,571.44 471.43,576.04 466.37,576.04" fill="#e87c80"/>
<polygon points="462,574.24 464.53,578.84 459.47,578.84" fill="#e87c80"/>
<polygon points="468.9,574.24 471.43,578.84 466.37,578.84" fill="#e87c80"/>
<polygon points="465.2,583.24 467.73,587.84 462.67,587.84" fill="#e87c80"/>
<polygon points="465.5,574.74 468.03,579.34 462.97,579.34" fill="#e87c80"/>
<line x1="462.7" y1="577.35" x2="468.7" y2="577.35" stroke="#fff" stroke-width="0.6" opacity="0.8"/>
<line x1="465.7" y1="575.55" x2="465.7" y2="579.15" stroke="#fff" stroke-width="0.6" opacity="0.8"/>
<line x1="463.9" y1="575.55" x2="467.5" y2="575.55" stroke="#fff" stroke-width="0.6" opacity="0.8"/>
<line x1="463.9" y1="579.15" x2="467.5" y2="579.15" stroke="#fff" stroke-width="0.6" opacity="0.8"/>
<polygon points="478.6,608.96 481.13,604.36 476.07,604.36" fill="#5cd38e"/>
<polygon points="485,612.16 487.53,607.56 482.47,607.56" fill="#5cd38e"/>
<polygon points="478.6,615.86 481.13,611.26 476.07,611.26" fill="#5cd38e"/>
<polygon points="485,615.86 487.53,611.26 482.47,611.26" fill="#5cd38e"/>
<polygon points="478.6,619.56 481.13,614.96 476.07,614.96" fill="#5cd38e"/>
<polygon points="481.8,614.26 484.33,609.66 479.27,609.66" fill="#5cd38e"/>
<line x1="479" y1="611.68" x2="485" y2="611.68" stroke="#fff" stroke-width="0.6" opacity="0.8"/>
<line x1="482" y1="609.88" x2="482" y2="613.48" stroke="#fff" stroke-width="0.6" opacity="0.8"/>
<line x1="480.2" y1="609.88" x2="483.8" y2="609.88" stroke="#fff" stroke-width="0.6" opacity="0.8"/>
<line x1="480.2" y1="613.48" x2="483.8" y2="613.48" stroke="#fff" stroke-width="0.6" opacity="0.8"/>
<polygon points="501.9,571.24 504.2,574 501.9,576.76 499.6,574" fill="#7c7cf2"/>
<polygon points="494.7,575.74 497,578.5 494.7,581.26 492.4,578.5" fill="#7c7cf2"/>
<polygon points="501.9,576.54 504.2,579.3 501.9,582.06 499.6,579.3" fill="#7c7cf2"/>
<polygon points="498.7,582.24 501,585 498.7,587.76 496.4,585" fill="#7c7cf2"/>
<polygon points="496.5,575.04 498.8,577.8 496.5,580.56 494.2,577.8" fill="#7c7cf2"/>
<polygon points="498.7,575.74 501,578.5 498.7,581.26 496.4,578.5" fill="#7c7cf2"/>
<line x1="495.7" y1="578.85" x2="501.7" y2="578.85" stroke="#fff" stroke-width="0.6" opacity="0.8"/>
<line x1="498.7" y1="577.05" x2="498.7" y2="580.65" stroke="#fff" stroke-width="0.6" opacity="0.8"/>
<line x1="496.9" y1="577.05" x2="500.5" y2="577.05" stroke="#fff" stroke-width="0.6" opacity="0.8"/>
<line x1="496.9" y1="580.65" x2="500.5" y2="580.65" stroke="#fff" stroke-width="0.6" opacity="0.8"/>
<circle cx="511.5" cy="584.2" r="2.2" fill="#c88af2"/>
<circle cx="518.3" cy="586.6" r="2.2" fill="#c88af2"/>
<circle cx="511.5" cy="590.6" r="2.2" fill="#c88af2"/>
<circle cx="518.3" cy="591.1" r="2.2" fill="#c88af2"/>
<circle cx="515.6" cy="597" r="2.2" fill="#c88af2"/>
<circle cx="515.3" cy="589.5" r="2.2" fill="#c88af2"/>
<line x1="512.3" y1="589.83" x2="518.3" y2="589.83" stroke="#fff" stroke-width="0.6" opacity="0.8"/>
<line x1="515.3" y1="588.03" x2="515.3" y2="591.63" stroke="#fff" stroke-width="0.6" opacity="0.8"/>
<line x1="513.5" y1="588.03" x2="517.1" y2="588.03" stroke="#fff" stroke-width="0.6" opacity="0.8"/>
<line x1="513.5" y1="591.63" x2="517.1" y2="591.63" stroke="#fff" stroke-width="0.6" opacity="0.8"/>
<text x="444.7" y="533.9" font-size="8.5"><tspan font-style="italic">P</tspan> &lt; 0.0001</text>
<line x1="449" y1="538.2" x2="482" y2="538.2" stroke="#222" stroke-width="0.9" />
<text x="477.7" y="547.6" font-size="8.5"><tspan font-style="italic">P</tspan> &lt; 0.0001</text>
<line x1="482" y1="551.1" x2="515.3" y2="551.1" stroke="#222" stroke-width="0.9" />
<text x="452.8" y="561.8" font-size="8.5"><tspan font-style="italic">P</tspan> &lt; 0.0001</text>
<line x1="465.7" y1="564.6" x2="482" y2="564.6" stroke="#777" stroke-width="0.9" />
<text x="413.6" y="641.4" font-size="8.45" text-anchor="end">sgFSP1 #1</text>
<text x="413.6" y="653.7" font-size="8.45" text-anchor="end">Cisplatin</text>
<text x="413.6" y="668.2" font-size="8.45" text-anchor="end">Lip-1</text>
<line x1="429.8" y1="638.8" x2="435" y2="638.8" stroke="#222" stroke-width="0.8" />
<line x1="446.4" y1="638.8" x2="451.6" y2="638.8" stroke="#222" stroke-width="0.8" />
<line x1="463.1" y1="638.8" x2="468.3" y2="638.8" stroke="#222" stroke-width="0.8" />
<line x1="465.7" y1="636.2" x2="465.7" y2="641.4" stroke="#222" stroke-width="0.8" />
<line x1="479.4" y1="638.8" x2="484.6" y2="638.8" stroke="#222" stroke-width="0.8" />
<line x1="482" y1="636.2" x2="482" y2="641.4" stroke="#222" stroke-width="0.8" />
<line x1="496.1" y1="638.8" x2="501.3" y2="638.8" stroke="#222" stroke-width="0.8" />
<line x1="498.7" y1="636.2" x2="498.7" y2="641.4" stroke="#222" stroke-width="0.8" />
<line x1="512.7" y1="638.8" x2="517.9" y2="638.8" stroke="#222" stroke-width="0.8" />
<line x1="515.3" y1="636.2" x2="515.3" y2="641.4" stroke="#222" stroke-width="0.8" />
<line x1="429.8" y1="651.6" x2="435" y2="651.6" stroke="#222" stroke-width="0.8" />
<line x1="446.4" y1="651.6" x2="451.6" y2="651.6" stroke="#222" stroke-width="0.8" />
<line x1="449" y1="649" x2="449" y2="654.2" stroke="#222" stroke-width="0.8" />
<line x1="463.1" y1="651.6" x2="468.3" y2="651.6" stroke="#222" stroke-width="0.8" />
<line x1="479.4" y1="651.6" x2="484.6" y2="651.6" stroke="#222" stroke-width="0.8" />
<line x1="482" y1="649" x2="482" y2="654.2" stroke="#222" stroke-width="0.8" />
<line x1="496.1" y1="651.6" x2="501.3" y2="651.6" stroke="#222" stroke-width="0.8" />
<line x1="512.7" y1="651.6" x2="517.9" y2="651.6" stroke="#222" stroke-width="0.8" />
<line x1="515.3" y1="649" x2="515.3" y2="654.2" stroke="#222" stroke-width="0.8" />
<line x1="429.8" y1="665.8" x2="435" y2="665.8" stroke="#222" stroke-width="0.8" />
<line x1="446.4" y1="665.8" x2="451.6" y2="665.8" stroke="#222" stroke-width="0.8" />
<line x1="463.1" y1="665.8" x2="468.3" y2="665.8" stroke="#222" stroke-width="0.8" />
<line x1="479.4" y1="665.8" x2="484.6" y2="665.8" stroke="#222" stroke-width="0.8" />
<line x1="496.1" y1="665.8" x2="501.3" y2="665.8" stroke="#222" stroke-width="0.8" />
<line x1="498.7" y1="663.2" x2="498.7" y2="668.4" stroke="#222" stroke-width="0.8" />
<line x1="512.7" y1="665.8" x2="517.9" y2="665.8" stroke="#222" stroke-width="0.8" />
<line x1="515.3" y1="663.2" x2="515.3" y2="668.4" stroke="#222" stroke-width="0.8" />
</g>
</svg>
</body></html>
